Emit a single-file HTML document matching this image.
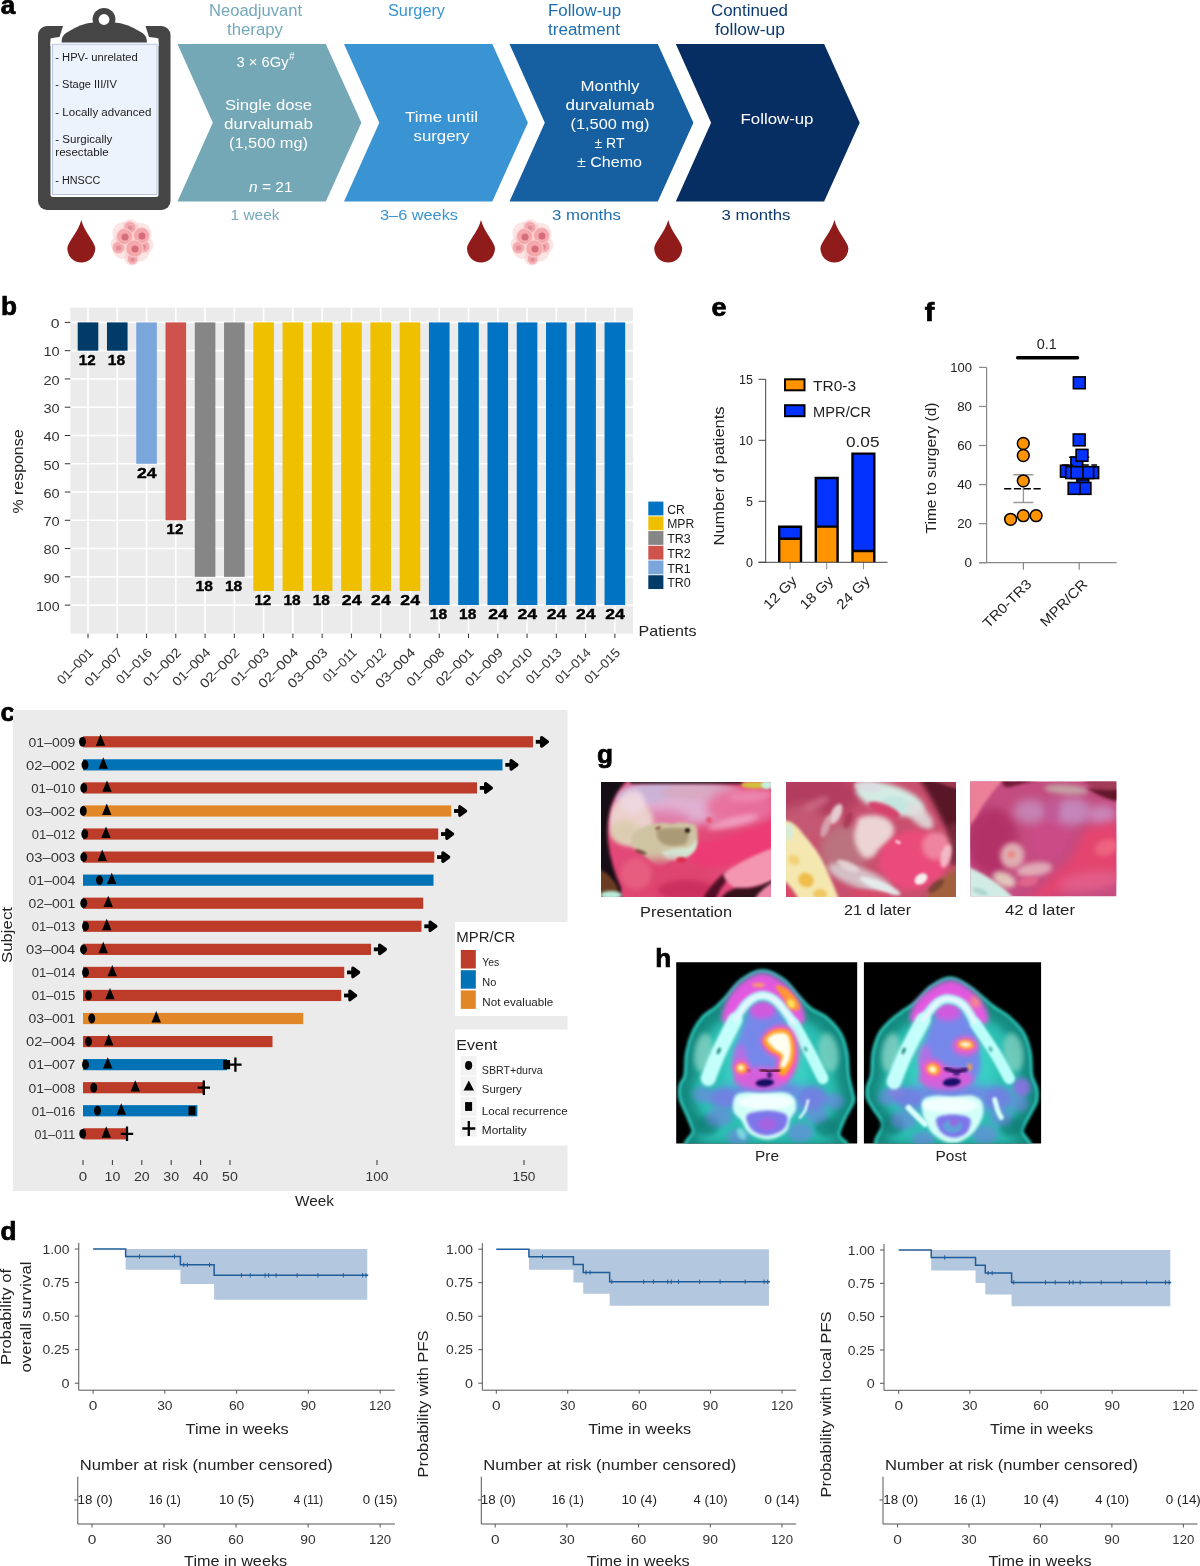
<!DOCTYPE html>
<html><head><meta charset="utf-8"><title>Figure</title>
<style>
html,body{margin:0;padding:0;background:#fff;}
body{width:1200px;height:1566px;overflow:hidden;}
svg{display:block;font-family:"Liberation Sans",sans-serif;}
</style></head><body>
<svg width="1200" height="1566" viewBox="0 0 1200 1566">
<defs>
<filter id="b1" x="-50%" y="-50%" width="200%" height="200%"><feGaussianBlur stdDeviation="0.8"/></filter>
<filter id="b2" x="-50%" y="-50%" width="200%" height="200%"><feGaussianBlur stdDeviation="1.6"/></filter>
<filter id="b3" x="-50%" y="-50%" width="200%" height="200%"><feGaussianBlur stdDeviation="2.6"/></filter>
<filter id="b4" x="-50%" y="-50%" width="200%" height="200%"><feGaussianBlur stdDeviation="5"/></filter>
</defs>
<rect width="1200" height="1566" fill="#fff"/>
<text x="0.8" y="13.6" font-size="25" font-weight="700" fill="#000" stroke="#000" stroke-width="0.7" textLength="14.5" lengthAdjust="spacingAndGlyphs">a</text>
<g>
<rect x="38" y="26" width="132.5" height="184" rx="9" fill="#454545"/>
<path d="M63,26 L145.5,26 L149,37 Q152,37 158.5,38.5 L158.5,46 L50.5,46 L50.5,38.5 Q56,37 59.5,37 Z" fill="#fff"/>
<rect x="50.5" y="40" width="108" height="157" rx="2.5" fill="#fff"/>
<rect x="52.6" y="44.2" width="104.4" height="150.4" fill="#edf3fc" stroke="#aab8de" stroke-width="0.8"/>
<path d="M61.5,42.4 Q61.5,36 66,33 Q82,22.5 93.5,22.5 L114.5,22.5 Q126,22.5 142.5,33 Q147,36 147,42.4 Z" fill="#454545"/>
<circle cx="104" cy="19.3" r="11.4" fill="#454545"/>
<circle cx="104" cy="19.5" r="5.4" fill="#fff"/>
</g>
<text x="55.3" y="60.5" font-size="10" fill="#1a1a1a" textLength="82.5" lengthAdjust="spacingAndGlyphs">- HPV- unrelated</text>
<text x="55.3" y="88" font-size="10" fill="#1a1a1a" textLength="61.5" lengthAdjust="spacingAndGlyphs">- Stage III/IV</text>
<text x="55.3" y="115.5" font-size="10" fill="#1a1a1a" textLength="96" lengthAdjust="spacingAndGlyphs">- Locally advanced</text>
<text x="55.3" y="142.5" font-size="10" fill="#1a1a1a" textLength="57" lengthAdjust="spacingAndGlyphs">- Surgically</text>
<text x="55.3" y="155.5" font-size="10" fill="#1a1a1a" textLength="53.5" lengthAdjust="spacingAndGlyphs">resectable</text>
<text x="55.3" y="183.5" font-size="10" fill="#1a1a1a" textLength="45" lengthAdjust="spacingAndGlyphs">- HNSCC</text>
<path d="M81.3,220.0 C84.3,232.0 95.3,242.5 95.3,248.5 A14,14 0 0 1 67.3,248.5 C67.3,242.5 78.3,232.0 81.3,220.0 Z" fill="#8f1b1b"/>
<path d="M481,220.0 C484,232.0 495,242.5 495,248.5 A14,14 0 0 1 467,248.5 C467,242.5 478,232.0 481,220.0 Z" fill="#8f1b1b"/>
<path d="M668.2,220.0 C671.2,232.0 682.2,242.5 682.2,248.5 A14,14 0 0 1 654.2,248.5 C654.2,242.5 665.2,232.0 668.2,220.0 Z" fill="#8f1b1b"/>
<path d="M834.4,220.0 C837.4,232.0 848.4,242.5 848.4,248.5 A14,14 0 0 1 820.4,248.5 C820.4,242.5 831.4,232.0 834.4,220.0 Z" fill="#8f1b1b"/>
<g>
<circle cx="123.5" cy="233" r="11" fill="#f8cccc" opacity="0.5"/>
<circle cx="140.5" cy="234" r="11" fill="#f8cccc" opacity="0.5"/>
<circle cx="122.5" cy="249" r="10" fill="#f8cccc" opacity="0.5"/>
<circle cx="138.5" cy="250" r="11.5" fill="#f8cccc" opacity="0.5"/>
<circle cx="132.5" cy="242" r="13" fill="#f8cccc" opacity="0.5"/>
<circle cx="145.5" cy="245" r="8" fill="#f8cccc" opacity="0.5"/>
<circle cx="131.5" cy="258" r="7.5" fill="#f8cccc" opacity="0.5"/>
<circle cx="130.5" cy="227" r="8" fill="#f8cccc" opacity="0.5"/>
<circle cx="117.5" cy="244" r="7" fill="#f8cccc" opacity="0.5"/>
<circle cx="118.5" cy="247.6" r="6" fill="#f3a9ad" stroke="#f9cfcf" stroke-width="0.8"/>
<circle cx="118.5" cy="248.1" r="2.52" fill="#e08e98"/>
<circle cx="143.5" cy="246.4" r="6" fill="#f3a9ad" stroke="#f9cfcf" stroke-width="0.8"/>
<circle cx="143.5" cy="246.9" r="2.52" fill="#e08e98"/>
<circle cx="130.0" cy="227.5" r="6" fill="#f3a9ad" stroke="#f9cfcf" stroke-width="0.8"/>
<circle cx="130.0" cy="228.0" r="2.52" fill="#e08e98"/>
<circle cx="132.5" cy="259" r="5.2" fill="#f3a9ad" stroke="#f9cfcf" stroke-width="0.8"/>
<circle cx="132.5" cy="259.5" r="2.18" fill="#e08e98"/>
<circle cx="124.5" cy="236.5" r="8" fill="#f5a8ac" stroke="#f9cfcf" stroke-width="0.9"/>
<circle cx="125.0" cy="237.0" r="3.5" fill="#d56e7a"/>
<circle cx="141.5" cy="235.6" r="8" fill="#f5a8ac" stroke="#f9cfcf" stroke-width="0.9"/>
<circle cx="142.0" cy="236.1" r="3.5" fill="#d56e7a"/>
<circle cx="134.5" cy="248.5" r="8.6" fill="#f5a8ac" stroke="#f9cfcf" stroke-width="0.9"/>
<circle cx="135.0" cy="249.0" r="3.5" fill="#d56e7a"/>
</g>
<g>
<circle cx="523.5" cy="233" r="11" fill="#f8cccc" opacity="0.5"/>
<circle cx="540.5" cy="234" r="11" fill="#f8cccc" opacity="0.5"/>
<circle cx="522.5" cy="249" r="10" fill="#f8cccc" opacity="0.5"/>
<circle cx="538.5" cy="250" r="11.5" fill="#f8cccc" opacity="0.5"/>
<circle cx="532.5" cy="242" r="13" fill="#f8cccc" opacity="0.5"/>
<circle cx="545.5" cy="245" r="8" fill="#f8cccc" opacity="0.5"/>
<circle cx="531.5" cy="258" r="7.5" fill="#f8cccc" opacity="0.5"/>
<circle cx="530.5" cy="227" r="8" fill="#f8cccc" opacity="0.5"/>
<circle cx="517.5" cy="244" r="7" fill="#f8cccc" opacity="0.5"/>
<circle cx="518.5" cy="247.6" r="6" fill="#f3a9ad" stroke="#f9cfcf" stroke-width="0.8"/>
<circle cx="518.5" cy="248.1" r="2.52" fill="#e08e98"/>
<circle cx="543.5" cy="246.4" r="6" fill="#f3a9ad" stroke="#f9cfcf" stroke-width="0.8"/>
<circle cx="543.5" cy="246.9" r="2.52" fill="#e08e98"/>
<circle cx="530.0" cy="227.5" r="6" fill="#f3a9ad" stroke="#f9cfcf" stroke-width="0.8"/>
<circle cx="530.0" cy="228.0" r="2.52" fill="#e08e98"/>
<circle cx="532.5" cy="259" r="5.2" fill="#f3a9ad" stroke="#f9cfcf" stroke-width="0.8"/>
<circle cx="532.5" cy="259.5" r="2.18" fill="#e08e98"/>
<circle cx="524.5" cy="236.5" r="8" fill="#f5a8ac" stroke="#f9cfcf" stroke-width="0.9"/>
<circle cx="525.0" cy="237.0" r="3.5" fill="#d56e7a"/>
<circle cx="541.5" cy="235.6" r="8" fill="#f5a8ac" stroke="#f9cfcf" stroke-width="0.9"/>
<circle cx="542.0" cy="236.1" r="3.5" fill="#d56e7a"/>
<circle cx="534.5" cy="248.5" r="8.6" fill="#f5a8ac" stroke="#f9cfcf" stroke-width="0.9"/>
<circle cx="535.0" cy="249.0" r="3.5" fill="#d56e7a"/>
</g>
<path d="M177.5,44 L325.8,44 L361.4,122.7 L325.8,201.4 L177.5,201.4 L212.8,122.7 Z" fill="#75a8b6"/>
<path d="M344,44 L492.3,44 L527.9,122.7 L492.3,201.4 L344,201.4 L379.3,122.7 Z" fill="#3a94d4"/>
<path d="M509.5,44 L657.8,44 L693.4,122.7 L657.8,201.4 L509.5,201.4 L544.8,122.7 Z" fill="#1660a1"/>
<path d="M675.8,44 L824.0999999999999,44 L859.6999999999999,122.7 L824.0999999999999,201.4 L675.8,201.4 L711.0999999999999,122.7 Z" fill="#062e62"/>
<text x="255.5" y="15.6" font-size="16" fill="#74a9b9" text-anchor="middle" textLength="93" lengthAdjust="spacingAndGlyphs">Neoadjuvant</text>
<text x="255" y="35" font-size="16" fill="#74a9b9" text-anchor="middle" textLength="56" lengthAdjust="spacingAndGlyphs">therapy</text>
<text x="416.5" y="15.6" font-size="16" fill="#3a94d4" text-anchor="middle" textLength="57" lengthAdjust="spacingAndGlyphs">Surgery</text>
<text x="584.5" y="15.6" font-size="16" fill="#1f6fb0" text-anchor="middle" textLength="73" lengthAdjust="spacingAndGlyphs">Follow-up</text>
<text x="584" y="35" font-size="16" fill="#1f6fb0" text-anchor="middle" textLength="72" lengthAdjust="spacingAndGlyphs">treatment</text>
<text x="749.5" y="15.6" font-size="16" fill="#0d3a6e" text-anchor="middle" textLength="77" lengthAdjust="spacingAndGlyphs">Continued</text>
<text x="750" y="35" font-size="16" fill="#0d3a6e" text-anchor="middle" textLength="70" lengthAdjust="spacingAndGlyphs">follow-up</text>
<text x="236.5" y="66.5" font-size="15.5" fill="#fff" textLength="52" lengthAdjust="spacingAndGlyphs">3 × 6Gy</text>
<text x="289" y="60" font-size="10" fill="#fff">#</text>
<text x="268.5" y="110" font-size="15.5" fill="#fff" text-anchor="middle" textLength="87" lengthAdjust="spacingAndGlyphs">Single dose</text>
<text x="268.5" y="129" font-size="15.5" fill="#fff" text-anchor="middle" textLength="89" lengthAdjust="spacingAndGlyphs">durvalumab</text>
<text x="268.5" y="148.3" font-size="15.5" fill="#fff" text-anchor="middle" textLength="79" lengthAdjust="spacingAndGlyphs">(1,500 mg)</text>
<text x="249" y="192" font-size="15.5" fill="#fff"><tspan font-style="italic">n</tspan> = 21</text>
<text x="441.5" y="121.5" font-size="15.5" fill="#fff" text-anchor="middle" textLength="73" lengthAdjust="spacingAndGlyphs">Time until</text>
<text x="441.5" y="141" font-size="15.5" fill="#fff" text-anchor="middle" textLength="56" lengthAdjust="spacingAndGlyphs">surgery</text>
<text x="610" y="90.7" font-size="15.5" fill="#fff" text-anchor="middle" textLength="59" lengthAdjust="spacingAndGlyphs">Monthly</text>
<text x="610" y="109.5" font-size="15.5" fill="#fff" text-anchor="middle" textLength="89" lengthAdjust="spacingAndGlyphs">durvalumab</text>
<text x="610" y="128.5" font-size="15.5" fill="#fff" text-anchor="middle" textLength="79" lengthAdjust="spacingAndGlyphs">(1,500 mg)</text>
<text x="609.5" y="147.5" font-size="15.5" fill="#fff" text-anchor="middle" textLength="30" lengthAdjust="spacingAndGlyphs">± RT</text>
<text x="609.5" y="166.5" font-size="15.5" fill="#fff" text-anchor="middle" textLength="65" lengthAdjust="spacingAndGlyphs">± Chemo</text>
<text x="777" y="124" font-size="15.5" fill="#fff" text-anchor="middle" textLength="73" lengthAdjust="spacingAndGlyphs">Follow-up</text>
<text x="255" y="220" font-size="15.5" fill="#74a9b9" text-anchor="middle" textLength="49" lengthAdjust="spacingAndGlyphs">1 week</text>
<text x="419" y="220" font-size="15.5" fill="#3a94d4" text-anchor="middle" textLength="78" lengthAdjust="spacingAndGlyphs">3–6 weeks</text>
<text x="586.5" y="220" font-size="15.5" fill="#1f6fb0" text-anchor="middle" textLength="69" lengthAdjust="spacingAndGlyphs">3 months</text>
<text x="756" y="220" font-size="15.5" fill="#0d3a6e" text-anchor="middle" textLength="69" lengthAdjust="spacingAndGlyphs">3 months</text>
<text x="1" y="315" font-size="25" font-weight="700" fill="#000" stroke="#000" stroke-width="0.7" textLength="16" lengthAdjust="spacingAndGlyphs">b</text>
<rect x="70.3" y="307.6" width="562.7" height="326.0" fill="#ebebeb"/>
<line x1="70.3" x2="633" y1="322.40" y2="322.40" stroke="#fff" stroke-width="1.6"/>
<line x1="64.8" x2="70.3" y1="322.40" y2="322.40" stroke="#333" stroke-width="1"/>
<text x="59.6" y="328.2" font-size="13" fill="#333" text-anchor="end" textLength="8.8" lengthAdjust="spacingAndGlyphs">0</text>
<line x1="70.3" x2="633" y1="350.67" y2="350.67" stroke="#fff" stroke-width="1.6"/>
<line x1="64.8" x2="70.3" y1="350.67" y2="350.67" stroke="#333" stroke-width="1"/>
<text x="59.6" y="356.47" font-size="13" fill="#333" text-anchor="end" textLength="16.2" lengthAdjust="spacingAndGlyphs">10</text>
<line x1="70.3" x2="633" y1="378.94" y2="378.94" stroke="#fff" stroke-width="1.6"/>
<line x1="64.8" x2="70.3" y1="378.94" y2="378.94" stroke="#333" stroke-width="1"/>
<text x="59.6" y="384.74" font-size="13" fill="#333" text-anchor="end" textLength="16.2" lengthAdjust="spacingAndGlyphs">20</text>
<line x1="70.3" x2="633" y1="407.21" y2="407.21" stroke="#fff" stroke-width="1.6"/>
<line x1="64.8" x2="70.3" y1="407.21" y2="407.21" stroke="#333" stroke-width="1"/>
<text x="59.6" y="413.01" font-size="13" fill="#333" text-anchor="end" textLength="16.2" lengthAdjust="spacingAndGlyphs">30</text>
<line x1="70.3" x2="633" y1="435.48" y2="435.48" stroke="#fff" stroke-width="1.6"/>
<line x1="64.8" x2="70.3" y1="435.48" y2="435.48" stroke="#333" stroke-width="1"/>
<text x="59.6" y="441.28" font-size="13" fill="#333" text-anchor="end" textLength="16.2" lengthAdjust="spacingAndGlyphs">40</text>
<line x1="70.3" x2="633" y1="463.75" y2="463.75" stroke="#fff" stroke-width="1.6"/>
<line x1="64.8" x2="70.3" y1="463.75" y2="463.75" stroke="#333" stroke-width="1"/>
<text x="59.6" y="469.55" font-size="13" fill="#333" text-anchor="end" textLength="16.2" lengthAdjust="spacingAndGlyphs">50</text>
<line x1="70.3" x2="633" y1="492.02" y2="492.02" stroke="#fff" stroke-width="1.6"/>
<line x1="64.8" x2="70.3" y1="492.02" y2="492.02" stroke="#333" stroke-width="1"/>
<text x="59.6" y="497.82" font-size="13" fill="#333" text-anchor="end" textLength="16.2" lengthAdjust="spacingAndGlyphs">60</text>
<line x1="70.3" x2="633" y1="520.29" y2="520.29" stroke="#fff" stroke-width="1.6"/>
<line x1="64.8" x2="70.3" y1="520.29" y2="520.29" stroke="#333" stroke-width="1"/>
<text x="59.6" y="526.09" font-size="13" fill="#333" text-anchor="end" textLength="16.2" lengthAdjust="spacingAndGlyphs">70</text>
<line x1="70.3" x2="633" y1="548.56" y2="548.56" stroke="#fff" stroke-width="1.6"/>
<line x1="64.8" x2="70.3" y1="548.56" y2="548.56" stroke="#333" stroke-width="1"/>
<text x="59.6" y="554.36" font-size="13" fill="#333" text-anchor="end" textLength="16.2" lengthAdjust="spacingAndGlyphs">80</text>
<line x1="70.3" x2="633" y1="576.83" y2="576.83" stroke="#fff" stroke-width="1.6"/>
<line x1="64.8" x2="70.3" y1="576.83" y2="576.83" stroke="#333" stroke-width="1"/>
<text x="59.6" y="582.63" font-size="13" fill="#333" text-anchor="end" textLength="16.2" lengthAdjust="spacingAndGlyphs">90</text>
<line x1="70.3" x2="633" y1="605.10" y2="605.10" stroke="#fff" stroke-width="1.6"/>
<line x1="64.8" x2="70.3" y1="605.10" y2="605.10" stroke="#333" stroke-width="1"/>
<text x="59.6" y="610.9" font-size="13" fill="#333" text-anchor="end" textLength="23.6" lengthAdjust="spacingAndGlyphs">100</text>
<line x1="88.00" x2="88.00" y1="307.6" y2="633.6" stroke="#fff" stroke-width="1.6"/>
<line x1="117.27" x2="117.27" y1="307.6" y2="633.6" stroke="#fff" stroke-width="1.6"/>
<line x1="146.54" x2="146.54" y1="307.6" y2="633.6" stroke="#fff" stroke-width="1.6"/>
<line x1="175.81" x2="175.81" y1="307.6" y2="633.6" stroke="#fff" stroke-width="1.6"/>
<line x1="205.08" x2="205.08" y1="307.6" y2="633.6" stroke="#fff" stroke-width="1.6"/>
<line x1="234.35" x2="234.35" y1="307.6" y2="633.6" stroke="#fff" stroke-width="1.6"/>
<line x1="263.62" x2="263.62" y1="307.6" y2="633.6" stroke="#fff" stroke-width="1.6"/>
<line x1="292.89" x2="292.89" y1="307.6" y2="633.6" stroke="#fff" stroke-width="1.6"/>
<line x1="322.16" x2="322.16" y1="307.6" y2="633.6" stroke="#fff" stroke-width="1.6"/>
<line x1="351.43" x2="351.43" y1="307.6" y2="633.6" stroke="#fff" stroke-width="1.6"/>
<line x1="380.70" x2="380.70" y1="307.6" y2="633.6" stroke="#fff" stroke-width="1.6"/>
<line x1="409.97" x2="409.97" y1="307.6" y2="633.6" stroke="#fff" stroke-width="1.6"/>
<line x1="439.24" x2="439.24" y1="307.6" y2="633.6" stroke="#fff" stroke-width="1.6"/>
<line x1="468.51" x2="468.51" y1="307.6" y2="633.6" stroke="#fff" stroke-width="1.6"/>
<line x1="497.78" x2="497.78" y1="307.6" y2="633.6" stroke="#fff" stroke-width="1.6"/>
<line x1="527.05" x2="527.05" y1="307.6" y2="633.6" stroke="#fff" stroke-width="1.6"/>
<line x1="556.32" x2="556.32" y1="307.6" y2="633.6" stroke="#fff" stroke-width="1.6"/>
<line x1="585.59" x2="585.59" y1="307.6" y2="633.6" stroke="#fff" stroke-width="1.6"/>
<line x1="614.86" x2="614.86" y1="307.6" y2="633.6" stroke="#fff" stroke-width="1.6"/>
<rect x="77.70" y="322.4" width="20.6" height="28.27" fill="#003C67"/>
<text x="87.2" y="364.67" font-size="15" fill="#000" text-anchor="middle" font-weight="700" textLength="16.8" lengthAdjust="spacingAndGlyphs" stroke="#000" stroke-width="0.4">12</text>
<line x1="88.00" x2="88.00" y1="633.6" y2="638.1" stroke="#333" stroke-width="1"/>
<text x="94.20" y="653.4" font-size="13" fill="#333" text-anchor="end" textLength="45.1" lengthAdjust="spacingAndGlyphs" transform="rotate(-45 94.20 653.4)">01–001</text>
<rect x="106.97" y="322.4" width="20.6" height="28.27" fill="#003C67"/>
<text x="116.47" y="364.67" font-size="15" fill="#000" text-anchor="middle" font-weight="700" textLength="17.3" lengthAdjust="spacingAndGlyphs" stroke="#000" stroke-width="0.4">18</text>
<line x1="117.27" x2="117.27" y1="633.6" y2="638.1" stroke="#333" stroke-width="1"/>
<text x="123.47" y="653.4" font-size="13" fill="#333" text-anchor="end" textLength="47.7" lengthAdjust="spacingAndGlyphs" transform="rotate(-45 123.47 653.4)">01–007</text>
<rect x="136.24" y="322.4" width="20.6" height="141.35" fill="#7AA6DC"/>
<text x="146.74" y="477.75" font-size="15" fill="#000" text-anchor="middle" font-weight="700" textLength="19.6" lengthAdjust="spacingAndGlyphs" stroke="#000" stroke-width="0.4">24</text>
<line x1="146.54" x2="146.54" y1="633.6" y2="638.1" stroke="#333" stroke-width="1"/>
<text x="152.74" y="653.4" font-size="13" fill="#333" text-anchor="end" textLength="44.5" lengthAdjust="spacingAndGlyphs" transform="rotate(-45 152.74 653.4)">01–016</text>
<rect x="165.51" y="322.4" width="20.6" height="197.89" fill="#CD534C"/>
<text x="175.01" y="534.29" font-size="15" fill="#000" text-anchor="middle" font-weight="700" textLength="16.8" lengthAdjust="spacingAndGlyphs" stroke="#000" stroke-width="0.4">12</text>
<line x1="175.81" x2="175.81" y1="633.6" y2="638.1" stroke="#333" stroke-width="1"/>
<text x="182.01" y="653.4" font-size="13" fill="#333" text-anchor="end" textLength="47.7" lengthAdjust="spacingAndGlyphs" transform="rotate(-45 182.01 653.4)">01–002</text>
<rect x="194.78" y="322.4" width="20.6" height="254.43" fill="#868686"/>
<text x="204.28" y="590.83" font-size="15" fill="#000" text-anchor="middle" font-weight="700" textLength="17.3" lengthAdjust="spacingAndGlyphs" stroke="#000" stroke-width="0.4">18</text>
<line x1="205.08" x2="205.08" y1="633.6" y2="638.1" stroke="#333" stroke-width="1"/>
<text x="211.28" y="653.4" font-size="13" fill="#333" text-anchor="end" textLength="47.7" lengthAdjust="spacingAndGlyphs" transform="rotate(-45 211.28 653.4)">01–004</text>
<rect x="224.05" y="322.4" width="20.6" height="254.43" fill="#868686"/>
<text x="233.55" y="590.83" font-size="15" fill="#000" text-anchor="middle" font-weight="700" textLength="17.3" lengthAdjust="spacingAndGlyphs" stroke="#000" stroke-width="0.4">18</text>
<line x1="234.35" x2="234.35" y1="633.6" y2="638.1" stroke="#333" stroke-width="1"/>
<text x="240.55" y="653.4" font-size="13" fill="#333" text-anchor="end" textLength="50.3" lengthAdjust="spacingAndGlyphs" transform="rotate(-45 240.55 653.4)">02–002</text>
<rect x="253.32" y="322.4" width="20.6" height="268.56" fill="#EFC000"/>
<text x="262.82" y="604.96" font-size="15" fill="#000" text-anchor="middle" font-weight="700" textLength="16.8" lengthAdjust="spacingAndGlyphs" stroke="#000" stroke-width="0.4">12</text>
<line x1="263.62" x2="263.62" y1="633.6" y2="638.1" stroke="#333" stroke-width="1"/>
<text x="269.82" y="653.4" font-size="13" fill="#333" text-anchor="end" textLength="47.7" lengthAdjust="spacingAndGlyphs" transform="rotate(-45 269.82 653.4)">01–003</text>
<rect x="282.59" y="322.4" width="20.6" height="268.56" fill="#EFC000"/>
<text x="292.09" y="604.96" font-size="15" fill="#000" text-anchor="middle" font-weight="700" textLength="17.3" lengthAdjust="spacingAndGlyphs" stroke="#000" stroke-width="0.4">18</text>
<line x1="292.89" x2="292.89" y1="633.6" y2="638.1" stroke="#333" stroke-width="1"/>
<text x="299.09" y="653.4" font-size="13" fill="#333" text-anchor="end" textLength="50.3" lengthAdjust="spacingAndGlyphs" transform="rotate(-45 299.09 653.4)">02–004</text>
<rect x="311.86" y="322.4" width="20.6" height="268.56" fill="#EFC000"/>
<text x="321.36" y="604.96" font-size="15" fill="#000" text-anchor="middle" font-weight="700" textLength="17.3" lengthAdjust="spacingAndGlyphs" stroke="#000" stroke-width="0.4">18</text>
<line x1="322.16" x2="322.16" y1="633.6" y2="638.1" stroke="#333" stroke-width="1"/>
<text x="328.36" y="653.4" font-size="13" fill="#333" text-anchor="end" textLength="50.3" lengthAdjust="spacingAndGlyphs" transform="rotate(-45 328.36 653.4)">03–003</text>
<rect x="341.13" y="322.4" width="20.6" height="268.56" fill="#EFC000"/>
<text x="351.63" y="604.96" font-size="15" fill="#000" text-anchor="middle" font-weight="700" textLength="19.6" lengthAdjust="spacingAndGlyphs" stroke="#000" stroke-width="0.4">24</text>
<line x1="351.43" x2="351.43" y1="633.6" y2="638.1" stroke="#333" stroke-width="1"/>
<text x="357.63" y="653.4" font-size="13" fill="#333" text-anchor="end" textLength="41.9" lengthAdjust="spacingAndGlyphs" transform="rotate(-45 357.63 653.4)">01–011</text>
<rect x="370.40" y="322.4" width="20.6" height="268.56" fill="#EFC000"/>
<text x="380.9" y="604.96" font-size="15" fill="#000" text-anchor="middle" font-weight="700" textLength="19.6" lengthAdjust="spacingAndGlyphs" stroke="#000" stroke-width="0.4">24</text>
<line x1="380.70" x2="380.70" y1="633.6" y2="638.1" stroke="#333" stroke-width="1"/>
<text x="386.90" y="653.4" font-size="13" fill="#333" text-anchor="end" textLength="44.5" lengthAdjust="spacingAndGlyphs" transform="rotate(-45 386.90 653.4)">01–012</text>
<rect x="399.67" y="322.4" width="20.6" height="268.56" fill="#EFC000"/>
<text x="410.17" y="604.96" font-size="15" fill="#000" text-anchor="middle" font-weight="700" textLength="19.6" lengthAdjust="spacingAndGlyphs" stroke="#000" stroke-width="0.4">24</text>
<line x1="409.97" x2="409.97" y1="633.6" y2="638.1" stroke="#333" stroke-width="1"/>
<text x="416.17" y="653.4" font-size="13" fill="#333" text-anchor="end" textLength="50.3" lengthAdjust="spacingAndGlyphs" transform="rotate(-45 416.17 653.4)">03–004</text>
<rect x="428.94" y="322.4" width="20.6" height="282.70" fill="#0073C2"/>
<text x="438.44" y="619.1" font-size="15" fill="#000" text-anchor="middle" font-weight="700" textLength="17.3" lengthAdjust="spacingAndGlyphs" stroke="#000" stroke-width="0.4">18</text>
<line x1="439.24" x2="439.24" y1="633.6" y2="638.1" stroke="#333" stroke-width="1"/>
<text x="445.44" y="653.4" font-size="13" fill="#333" text-anchor="end" textLength="47.7" lengthAdjust="spacingAndGlyphs" transform="rotate(-45 445.44 653.4)">01–008</text>
<rect x="458.21" y="322.4" width="20.6" height="282.70" fill="#0073C2"/>
<text x="467.71" y="619.1" font-size="15" fill="#000" text-anchor="middle" font-weight="700" textLength="17.3" lengthAdjust="spacingAndGlyphs" stroke="#000" stroke-width="0.4">18</text>
<line x1="468.51" x2="468.51" y1="633.6" y2="638.1" stroke="#333" stroke-width="1"/>
<text x="474.71" y="653.4" font-size="13" fill="#333" text-anchor="end" textLength="47.7" lengthAdjust="spacingAndGlyphs" transform="rotate(-45 474.71 653.4)">02–001</text>
<rect x="487.48" y="322.4" width="20.6" height="282.70" fill="#0073C2"/>
<text x="497.98" y="619.1" font-size="15" fill="#000" text-anchor="middle" font-weight="700" textLength="19.6" lengthAdjust="spacingAndGlyphs" stroke="#000" stroke-width="0.4">24</text>
<line x1="497.78" x2="497.78" y1="633.6" y2="638.1" stroke="#333" stroke-width="1"/>
<text x="503.98" y="653.4" font-size="13" fill="#333" text-anchor="end" textLength="47.7" lengthAdjust="spacingAndGlyphs" transform="rotate(-45 503.98 653.4)">01–009</text>
<rect x="516.75" y="322.4" width="20.6" height="282.70" fill="#0073C2"/>
<text x="527.25" y="619.1" font-size="15" fill="#000" text-anchor="middle" font-weight="700" textLength="19.6" lengthAdjust="spacingAndGlyphs" stroke="#000" stroke-width="0.4">24</text>
<line x1="527.05" x2="527.05" y1="633.6" y2="638.1" stroke="#333" stroke-width="1"/>
<text x="533.25" y="653.4" font-size="13" fill="#333" text-anchor="end" textLength="45.1" lengthAdjust="spacingAndGlyphs" transform="rotate(-45 533.25 653.4)">01–010</text>
<rect x="546.02" y="322.4" width="20.6" height="282.70" fill="#0073C2"/>
<text x="556.52" y="619.1" font-size="15" fill="#000" text-anchor="middle" font-weight="700" textLength="19.6" lengthAdjust="spacingAndGlyphs" stroke="#000" stroke-width="0.4">24</text>
<line x1="556.32" x2="556.32" y1="633.6" y2="638.1" stroke="#333" stroke-width="1"/>
<text x="562.52" y="653.4" font-size="13" fill="#333" text-anchor="end" textLength="44.5" lengthAdjust="spacingAndGlyphs" transform="rotate(-45 562.52 653.4)">01–013</text>
<rect x="575.29" y="322.4" width="20.6" height="282.70" fill="#0073C2"/>
<text x="585.79" y="619.1" font-size="15" fill="#000" text-anchor="middle" font-weight="700" textLength="19.6" lengthAdjust="spacingAndGlyphs" stroke="#000" stroke-width="0.4">24</text>
<line x1="585.59" x2="585.59" y1="633.6" y2="638.1" stroke="#333" stroke-width="1"/>
<text x="591.79" y="653.4" font-size="13" fill="#333" text-anchor="end" textLength="44.5" lengthAdjust="spacingAndGlyphs" transform="rotate(-45 591.79 653.4)">01–014</text>
<rect x="604.56" y="322.4" width="20.6" height="282.70" fill="#0073C2"/>
<text x="615.06" y="619.1" font-size="15" fill="#000" text-anchor="middle" font-weight="700" textLength="19.6" lengthAdjust="spacingAndGlyphs" stroke="#000" stroke-width="0.4">24</text>
<line x1="614.86" x2="614.86" y1="633.6" y2="638.1" stroke="#333" stroke-width="1"/>
<text x="621.06" y="653.4" font-size="13" fill="#333" text-anchor="end" textLength="44.5" lengthAdjust="spacingAndGlyphs" transform="rotate(-45 621.06 653.4)">01–015</text>
<text x="638.5" y="636" font-size="15" fill="#222" textLength="58" lengthAdjust="spacingAndGlyphs">Patients</text>
<text x="22.5" y="471.5" font-size="14" fill="#222" text-anchor="middle" textLength="84" lengthAdjust="spacingAndGlyphs" transform="rotate(-90 22.5 471.5)">% response</text>
<rect x="648.3" y="501.60" width="15.1" height="13.8" fill="#0073C2"/>
<text x="667.2" y="513.6" font-size="12.5" fill="#1a1a1a" textLength="17.5" lengthAdjust="spacingAndGlyphs">CR</text>
<rect x="648.3" y="516.33" width="15.1" height="13.8" fill="#EFC000"/>
<text x="667.2" y="528.33" font-size="12.5" fill="#1a1a1a" textLength="27" lengthAdjust="spacingAndGlyphs">MPR</text>
<rect x="648.3" y="531.06" width="15.1" height="13.8" fill="#868686"/>
<text x="667.2" y="543.06" font-size="12.5" fill="#1a1a1a" textLength="23.5" lengthAdjust="spacingAndGlyphs">TR3</text>
<rect x="648.3" y="545.79" width="15.1" height="13.8" fill="#CD534C"/>
<text x="667.2" y="557.79" font-size="12.5" fill="#1a1a1a" textLength="23.5" lengthAdjust="spacingAndGlyphs">TR2</text>
<rect x="648.3" y="560.52" width="15.1" height="13.8" fill="#7AA6DC"/>
<text x="667.2" y="572.52" font-size="12.5" fill="#1a1a1a" textLength="23.5" lengthAdjust="spacingAndGlyphs">TR1</text>
<rect x="648.3" y="575.25" width="15.1" height="13.8" fill="#003C67"/>
<text x="667.2" y="587.25" font-size="12.5" fill="#1a1a1a" textLength="23.5" lengthAdjust="spacingAndGlyphs">TR0</text>
<text x="0.6" y="721" font-size="25" font-weight="700" fill="#000" stroke="#000" stroke-width="0.7" textLength="14.5" lengthAdjust="spacingAndGlyphs">c</text>
<rect x="13" y="710" width="554.5" height="481" fill="#ebebeb"/>
<rect x="83" y="736.20" width="450.00" height="11.2" fill="#BC3C29"/>
<text x="75.3" y="746.6" font-size="13" fill="#333" text-anchor="end" textLength="46.7" lengthAdjust="spacingAndGlyphs">01–009</text>
<ellipse cx="82.50" cy="741.80" rx="3.45" ry="4.9" fill="#000"/>
<path d="M100.50,734.30 L105.20,745.70 L95.80,745.70 Z" fill="#000"/>
<path d="M535.80,741.80 H543.80" stroke="#000" stroke-width="3.8" fill="none"/><path d="M541.60,737.50 L547.40,741.80 L541.60,746.10 Z" fill="#000" stroke="#000" stroke-width="3.2" stroke-linejoin="round"/>
<rect x="83" y="759.26" width="419.50" height="11.2" fill="#0072B5"/>
<text x="75.3" y="769.66" font-size="13" fill="#333" text-anchor="end" textLength="49.3" lengthAdjust="spacingAndGlyphs">02–002</text>
<ellipse cx="85.00" cy="764.86" rx="3.45" ry="4.9" fill="#000"/>
<path d="M103.25,757.36 L107.95,768.76 L98.55,768.76 Z" fill="#000"/>
<path d="M505.30,764.86 H513.30" stroke="#000" stroke-width="3.8" fill="none"/><path d="M511.10,760.56 L516.90,764.86 L511.10,769.16 Z" fill="#000" stroke="#000" stroke-width="3.2" stroke-linejoin="round"/>
<rect x="83" y="782.32" width="394.00" height="11.2" fill="#BC3C29"/>
<text x="75.3" y="792.72" font-size="13" fill="#333" text-anchor="end" textLength="44.1" lengthAdjust="spacingAndGlyphs">01–010</text>
<ellipse cx="83.75" cy="787.92" rx="3.45" ry="4.9" fill="#000"/>
<path d="M107.00,780.42 L111.70,791.82 L102.30,791.82 Z" fill="#000"/>
<path d="M479.80,787.92 H487.80" stroke="#000" stroke-width="3.8" fill="none"/><path d="M485.60,783.62 L491.40,787.92 L485.60,792.22 Z" fill="#000" stroke="#000" stroke-width="3.2" stroke-linejoin="round"/>
<rect x="83" y="805.38" width="368.20" height="11.2" fill="#E18727"/>
<text x="75.3" y="815.78" font-size="13" fill="#333" text-anchor="end" textLength="49.3" lengthAdjust="spacingAndGlyphs">03–002</text>
<ellipse cx="83.25" cy="810.98" rx="3.45" ry="4.9" fill="#000"/>
<path d="M106.75,803.48 L111.45,814.88 L102.05,814.88 Z" fill="#000"/>
<path d="M454.00,810.98 H462.00" stroke="#000" stroke-width="3.8" fill="none"/><path d="M459.80,806.68 L465.60,810.98 L459.80,815.28 Z" fill="#000" stroke="#000" stroke-width="3.2" stroke-linejoin="round"/>
<rect x="83" y="828.44" width="355.20" height="11.2" fill="#BC3C29"/>
<text x="75.3" y="838.84" font-size="13" fill="#333" text-anchor="end" textLength="43.5" lengthAdjust="spacingAndGlyphs">01–012</text>
<ellipse cx="84.75" cy="834.04" rx="3.45" ry="4.9" fill="#000"/>
<path d="M106.00,826.54 L110.70,837.94 L101.30,837.94 Z" fill="#000"/>
<path d="M441.00,834.04 H449.00" stroke="#000" stroke-width="3.8" fill="none"/><path d="M446.80,829.74 L452.60,834.04 L446.80,838.34 Z" fill="#000" stroke="#000" stroke-width="3.2" stroke-linejoin="round"/>
<rect x="83" y="851.50" width="351.30" height="11.2" fill="#BC3C29"/>
<text x="75.3" y="861.9" font-size="13" fill="#333" text-anchor="end" textLength="49.3" lengthAdjust="spacingAndGlyphs">03–003</text>
<ellipse cx="83.75" cy="857.10" rx="3.45" ry="4.9" fill="#000"/>
<path d="M102.25,849.60 L106.95,861.00 L97.55,861.00 Z" fill="#000"/>
<path d="M437.10,857.10 H445.10" stroke="#000" stroke-width="3.8" fill="none"/><path d="M442.90,852.80 L448.70,857.10 L442.90,861.40 Z" fill="#000" stroke="#000" stroke-width="3.2" stroke-linejoin="round"/>
<rect x="83" y="874.56" width="350.50" height="11.2" fill="#0072B5"/>
<text x="75.3" y="884.96" font-size="13" fill="#333" text-anchor="end" textLength="46.7" lengthAdjust="spacingAndGlyphs">01–004</text>
<ellipse cx="99.50" cy="880.16" rx="3.45" ry="4.9" fill="#000"/>
<path d="M111.75,872.66 L116.45,884.06 L107.05,884.06 Z" fill="#000"/>
<rect x="83" y="897.62" width="340.20" height="11.2" fill="#BC3C29"/>
<text x="75.3" y="908.02" font-size="13" fill="#333" text-anchor="end" textLength="46.7" lengthAdjust="spacingAndGlyphs">02–001</text>
<ellipse cx="83.75" cy="903.22" rx="3.45" ry="4.9" fill="#000"/>
<path d="M108.25,895.72 L112.95,907.12 L103.55,907.12 Z" fill="#000"/>
<rect x="83" y="920.68" width="338.50" height="11.2" fill="#BC3C29"/>
<text x="75.3" y="931.08" font-size="13" fill="#333" text-anchor="end" textLength="43.5" lengthAdjust="spacingAndGlyphs">01–013</text>
<ellipse cx="85.50" cy="926.28" rx="3.45" ry="4.9" fill="#000"/>
<path d="M106.75,918.78 L111.45,930.18 L102.05,930.18 Z" fill="#000"/>
<path d="M424.30,926.28 H432.30" stroke="#000" stroke-width="3.8" fill="none"/><path d="M430.10,921.98 L435.90,926.28 L430.10,930.58 Z" fill="#000" stroke="#000" stroke-width="3.2" stroke-linejoin="round"/>
<rect x="83" y="943.74" width="288.00" height="11.2" fill="#BC3C29"/>
<text x="75.3" y="954.14" font-size="13" fill="#333" text-anchor="end" textLength="49.3" lengthAdjust="spacingAndGlyphs">03–004</text>
<ellipse cx="83.50" cy="949.34" rx="3.45" ry="4.9" fill="#000"/>
<path d="M103.25,941.84 L107.95,953.24 L98.55,953.24 Z" fill="#000"/>
<path d="M373.80,949.34 H381.80" stroke="#000" stroke-width="3.8" fill="none"/><path d="M379.60,945.04 L385.40,949.34 L379.60,953.64 Z" fill="#000" stroke="#000" stroke-width="3.2" stroke-linejoin="round"/>
<rect x="83" y="966.80" width="261.25" height="11.2" fill="#BC3C29"/>
<text x="75.3" y="977.2" font-size="13" fill="#333" text-anchor="end" textLength="43.5" lengthAdjust="spacingAndGlyphs">01–014</text>
<ellipse cx="85.50" cy="972.40" rx="3.45" ry="4.9" fill="#000"/>
<path d="M112.25,964.90 L116.95,976.30 L107.55,976.30 Z" fill="#000"/>
<path d="M347.05,972.40 H355.05" stroke="#000" stroke-width="3.8" fill="none"/><path d="M352.85,968.10 L358.65,972.40 L352.85,976.70 Z" fill="#000" stroke="#000" stroke-width="3.2" stroke-linejoin="round"/>
<rect x="83" y="989.86" width="258.25" height="11.2" fill="#BC3C29"/>
<text x="75.3" y="1000.26" font-size="13" fill="#333" text-anchor="end" textLength="43.5" lengthAdjust="spacingAndGlyphs">01–015</text>
<ellipse cx="88.50" cy="995.46" rx="3.45" ry="4.9" fill="#000"/>
<path d="M110.00,987.96 L114.70,999.36 L105.30,999.36 Z" fill="#000"/>
<path d="M344.05,995.46 H352.05" stroke="#000" stroke-width="3.8" fill="none"/><path d="M349.85,991.16 L355.65,995.46 L349.85,999.76 Z" fill="#000" stroke="#000" stroke-width="3.2" stroke-linejoin="round"/>
<rect x="83" y="1012.92" width="220.25" height="11.2" fill="#E18727"/>
<text x="75.3" y="1023.32" font-size="13" fill="#333" text-anchor="end" textLength="46.7" lengthAdjust="spacingAndGlyphs">03–001</text>
<ellipse cx="91.75" cy="1018.52" rx="3.45" ry="4.9" fill="#000"/>
<path d="M156.25,1011.02 L160.95,1022.42 L151.55,1022.42 Z" fill="#000"/>
<rect x="83" y="1035.98" width="189.50" height="11.2" fill="#BC3C29"/>
<text x="75.3" y="1046.38" font-size="13" fill="#333" text-anchor="end" textLength="49.3" lengthAdjust="spacingAndGlyphs">02–004</text>
<ellipse cx="88.50" cy="1041.58" rx="3.45" ry="4.9" fill="#000"/>
<path d="M108.75,1034.08 L113.45,1045.48 L104.05,1045.48 Z" fill="#000"/>
<rect x="83" y="1059.04" width="144.00" height="11.2" fill="#0072B5"/>
<text x="75.3" y="1069.44" font-size="13" fill="#333" text-anchor="end" textLength="46.7" lengthAdjust="spacingAndGlyphs">01–007</text>
<ellipse cx="85.50" cy="1064.64" rx="3.45" ry="4.9" fill="#000"/>
<path d="M107.75,1057.14 L112.45,1068.54 L103.05,1068.54 Z" fill="#000"/>
<rect x="223.10" y="1060.04" width="7.0" height="9.2" fill="#000"/>
<path d="M229.20,1064.64 H241.60 M235.40,1057.44 V1071.84" stroke="#000" stroke-width="2.3" fill="none"/>
<rect x="83" y="1082.10" width="122.00" height="11.2" fill="#BC3C29"/>
<text x="75.3" y="1092.5" font-size="13" fill="#333" text-anchor="end" textLength="46.7" lengthAdjust="spacingAndGlyphs">01–008</text>
<ellipse cx="93.75" cy="1087.70" rx="3.45" ry="4.9" fill="#000"/>
<path d="M135.25,1080.20 L139.95,1091.60 L130.55,1091.60 Z" fill="#000"/>
<path d="M197.60,1087.70 H210.00 M203.80,1080.50 V1094.90" stroke="#000" stroke-width="2.3" fill="none"/>
<rect x="83" y="1105.16" width="114.40" height="11.2" fill="#0072B5"/>
<text x="75.3" y="1115.56" font-size="13" fill="#333" text-anchor="end" textLength="43.5" lengthAdjust="spacingAndGlyphs">01–016</text>
<ellipse cx="97.50" cy="1110.76" rx="3.45" ry="4.9" fill="#000"/>
<path d="M121.25,1103.26 L125.95,1114.66 L116.55,1114.66 Z" fill="#000"/>
<rect x="188.50" y="1106.16" width="7.0" height="9.2" fill="#000"/>
<rect x="83" y="1128.22" width="43.00" height="11.2" fill="#BC3C29"/>
<text x="75.3" y="1138.62" font-size="13" fill="#333" text-anchor="end" textLength="40.9" lengthAdjust="spacingAndGlyphs">01–011</text>
<ellipse cx="82.75" cy="1133.82" rx="3.45" ry="4.9" fill="#000"/>
<path d="M106.25,1126.32 L110.95,1137.72 L101.55,1137.72 Z" fill="#000"/>
<path d="M120.80,1133.82 H133.20 M127.00,1126.62 V1141.02" stroke="#000" stroke-width="2.3" fill="none"/>
<line x1="83.00" x2="83.00" y1="1160" y2="1165" stroke="#333" stroke-width="1"/>
<text x="83.0" y="1180.8" font-size="13" fill="#333" text-anchor="middle" textLength="8.4" lengthAdjust="spacingAndGlyphs">0</text>
<line x1="112.40" x2="112.40" y1="1160" y2="1165" stroke="#333" stroke-width="1"/>
<text x="112.4" y="1180.8" font-size="13" fill="#333" text-anchor="middle" textLength="15.8" lengthAdjust="spacingAndGlyphs">10</text>
<line x1="141.80" x2="141.80" y1="1160" y2="1165" stroke="#333" stroke-width="1"/>
<text x="141.8" y="1180.8" font-size="13" fill="#333" text-anchor="middle" textLength="15.8" lengthAdjust="spacingAndGlyphs">20</text>
<line x1="171.20" x2="171.20" y1="1160" y2="1165" stroke="#333" stroke-width="1"/>
<text x="171.2" y="1180.8" font-size="13" fill="#333" text-anchor="middle" textLength="15.8" lengthAdjust="spacingAndGlyphs">30</text>
<line x1="200.60" x2="200.60" y1="1160" y2="1165" stroke="#333" stroke-width="1"/>
<text x="200.6" y="1180.8" font-size="13" fill="#333" text-anchor="middle" textLength="15.8" lengthAdjust="spacingAndGlyphs">40</text>
<line x1="230.00" x2="230.00" y1="1160" y2="1165" stroke="#333" stroke-width="1"/>
<text x="230.0" y="1180.8" font-size="13" fill="#333" text-anchor="middle" textLength="15.8" lengthAdjust="spacingAndGlyphs">50</text>
<line x1="377.00" x2="377.00" y1="1160" y2="1165" stroke="#333" stroke-width="1"/>
<text x="377.0" y="1180.8" font-size="13" fill="#333" text-anchor="middle" textLength="22.8" lengthAdjust="spacingAndGlyphs">100</text>
<line x1="524.00" x2="524.00" y1="1160" y2="1165" stroke="#333" stroke-width="1"/>
<text x="524.0" y="1180.8" font-size="13" fill="#333" text-anchor="middle" textLength="22.8" lengthAdjust="spacingAndGlyphs">150</text>
<text x="314.5" y="1205.5" font-size="15" fill="#222" text-anchor="middle" textLength="39" lengthAdjust="spacingAndGlyphs">Week</text>
<text x="11.5" y="935" font-size="14.5" fill="#222" text-anchor="middle" textLength="56" lengthAdjust="spacingAndGlyphs" transform="rotate(-90 11.5 935)">Subject</text>
<rect x="455" y="922" width="113" height="94" fill="#fff"/>
<rect x="455" y="1029.5" width="113" height="116" fill="#fff"/>
<text x="456.3" y="941.5" font-size="15" fill="#222" textLength="59" lengthAdjust="spacingAndGlyphs">MPR/CR</text>
<rect x="460.8" y="950.00" width="15" height="18.5" fill="#BC3C29"/>
<text x="482.3" y="966.0" font-size="10.5" fill="#222" textLength="17" lengthAdjust="spacingAndGlyphs">Yes</text>
<rect x="460.8" y="970.20" width="15" height="18.5" fill="#0072B5"/>
<text x="482.3" y="985.9" font-size="10.5" fill="#222" textLength="14" lengthAdjust="spacingAndGlyphs">No</text>
<rect x="460.8" y="990.40" width="15" height="18.5" fill="#E18727"/>
<text x="482.3" y="1005.8" font-size="10.5" fill="#222" textLength="71" lengthAdjust="spacingAndGlyphs">Not evaluable</text>
<text x="456.3" y="1049.5" font-size="15" fill="#222" textLength="41" lengthAdjust="spacingAndGlyphs">Event</text>
<rect x="460.5" y="1056.00" width="16" height="19.4" fill="#f2f2f2"/>
<rect x="460.5" y="1076.40" width="16" height="19.4" fill="#f2f2f2"/>
<rect x="460.5" y="1096.80" width="16" height="19.4" fill="#f2f2f2"/>
<rect x="460.5" y="1117.20" width="16" height="19.4" fill="#f2f2f2"/>
<ellipse cx="468.6" cy="1065.5" rx="3.6" ry="4.4" fill="#000"/>
<path d="M468.8,1080.5 L474,1090.5 L463.6,1090.5 Z" fill="#000"/>
<rect x="465.10" y="1102.10" width="7.0" height="8.8" fill="#000"/>
<path d="M462.30,1128.50 H475.30 M468.80,1121.00 V1136.00" stroke="#000" stroke-width="2.3" fill="none"/>
<text x="481.8" y="1073.8" font-size="10.5" fill="#222" textLength="61" lengthAdjust="spacingAndGlyphs">SBRT+durva</text>
<text x="481.8" y="1093" font-size="10.5" fill="#222" textLength="40" lengthAdjust="spacingAndGlyphs">Surgery</text>
<text x="481.8" y="1114.5" font-size="10.5" fill="#222" textLength="86" lengthAdjust="spacingAndGlyphs">Local recurrence</text>
<text x="481.8" y="1134" font-size="10.5" fill="#222" textLength="45" lengthAdjust="spacingAndGlyphs">Mortality</text>
<text x="711.5" y="315.5" font-size="25" font-weight="700" fill="#000" stroke="#000" stroke-width="0.7" textLength="15" lengthAdjust="spacingAndGlyphs">e</text>
<path d="M765.7,379.30 V562.3" stroke="#444" stroke-width="1" fill="none"/>
<line x1="758.5" x2="765.7" y1="562.30" y2="562.30" stroke="#444" stroke-width="1"/>
<text x="753" y="566.8" font-size="12.5" fill="#222" text-anchor="end">0</text>
<line x1="758.5" x2="765.7" y1="501.30" y2="501.30" stroke="#444" stroke-width="1"/>
<text x="753" y="505.8" font-size="12.5" fill="#222" text-anchor="end">5</text>
<line x1="758.5" x2="765.7" y1="440.30" y2="440.30" stroke="#444" stroke-width="1"/>
<text x="753" y="444.8" font-size="12.5" fill="#222" text-anchor="end">10</text>
<line x1="758.5" x2="765.7" y1="379.30" y2="379.30" stroke="#444" stroke-width="1"/>
<text x="753" y="383.8" font-size="12.5" fill="#222" text-anchor="end">15</text>
<rect x="779.20" y="538.80" width="21.8" height="23.50" fill="#ff9400"/>
<rect x="779.20" y="526.80" width="21.8" height="12.00" fill="#0433ff"/>
<path d="M779.20,562.30 V526.80 H801.00 V562.30 M779.20,538.80 H801.00" fill="none" stroke="#000" stroke-width="2.4" stroke-linejoin="miter"/>
<line x1="790.1" x2="790.1" y1="562.3" y2="569.3" stroke="#888" stroke-width="1"/>
<rect x="815.80" y="526.60" width="21.8" height="35.70" fill="#ff9400"/>
<rect x="815.80" y="478.00" width="21.8" height="48.60" fill="#0433ff"/>
<path d="M815.80,562.30 V478.00 H837.60 V562.30 M815.80,526.60 H837.60" fill="none" stroke="#000" stroke-width="2.4" stroke-linejoin="miter"/>
<line x1="826.7" x2="826.7" y1="562.3" y2="569.3" stroke="#888" stroke-width="1"/>
<rect x="852.50" y="551.00" width="21.8" height="11.30" fill="#ff9400"/>
<rect x="852.50" y="453.60" width="21.8" height="97.40" fill="#0433ff"/>
<path d="M852.50,562.30 V453.60 H874.30 V562.30 M852.50,551.00 H874.30" fill="none" stroke="#000" stroke-width="2.4" stroke-linejoin="miter"/>
<line x1="863.4" x2="863.4" y1="562.3" y2="569.3" stroke="#888" stroke-width="1"/>
<text x="797.6" y="581.5" font-size="14" fill="#222" text-anchor="end" textLength="40.5" lengthAdjust="spacingAndGlyphs" transform="rotate(-45 797.6 581.5)">12 Gy</text>
<text x="834.2" y="581.5" font-size="14" fill="#222" text-anchor="end" textLength="40.5" lengthAdjust="spacingAndGlyphs" transform="rotate(-45 834.2 581.5)">18 Gy</text>
<text x="870.9" y="581.5" font-size="14" fill="#222" text-anchor="end" textLength="40.5" lengthAdjust="spacingAndGlyphs" transform="rotate(-45 870.9 581.5)">24 Gy</text>
<path d="M758.5,562.3 H887.5" stroke="#444" stroke-width="1" fill="none"/>
<text x="846" y="447" font-size="15" fill="#222" textLength="33.5" lengthAdjust="spacingAndGlyphs">0.05</text>
<rect x="785" y="379.3" width="19.5" height="11" fill="#ff9400" stroke="#000" stroke-width="2"/>
<rect x="785" y="405.2" width="19.5" height="11" fill="#0433ff" stroke="#000" stroke-width="2"/>
<text x="813" y="391" font-size="15.2" fill="#222" textLength="43" lengthAdjust="spacingAndGlyphs">TR0-3</text>
<text x="813" y="417" font-size="15.2" fill="#222" textLength="58" lengthAdjust="spacingAndGlyphs">MPR/CR</text>
<text x="724" y="476" font-size="15.2" fill="#222" text-anchor="middle" textLength="139" lengthAdjust="spacingAndGlyphs" transform="rotate(-90 724 476)">Number of patients</text>
<text x="924.8" y="320.5" font-size="25" font-weight="700" fill="#000" stroke="#000" stroke-width="0.7" textLength="9.5" lengthAdjust="spacingAndGlyphs">f</text>
<path d="M986.6,367.40 V562.7" stroke="#888" stroke-width="1.2" fill="none"/>
<path d="M979,562.7 H1116.7" stroke="#888" stroke-width="1.2" fill="none"/>
<line x1="979" x2="986.6" y1="562.70" y2="562.70" stroke="#888" stroke-width="1.2"/>
<text x="972" y="567.3" font-size="12.5" fill="#222" text-anchor="end" textLength="7.5" lengthAdjust="spacingAndGlyphs">0</text>
<line x1="979" x2="986.6" y1="523.64" y2="523.64" stroke="#888" stroke-width="1.2"/>
<text x="972" y="528.24" font-size="12.5" fill="#222" text-anchor="end" textLength="14.8" lengthAdjust="spacingAndGlyphs">20</text>
<line x1="979" x2="986.6" y1="484.58" y2="484.58" stroke="#888" stroke-width="1.2"/>
<text x="972" y="489.18" font-size="12.5" fill="#222" text-anchor="end" textLength="14.8" lengthAdjust="spacingAndGlyphs">40</text>
<line x1="979" x2="986.6" y1="445.52" y2="445.52" stroke="#888" stroke-width="1.2"/>
<text x="972" y="450.12" font-size="12.5" fill="#222" text-anchor="end" textLength="14.8" lengthAdjust="spacingAndGlyphs">60</text>
<line x1="979" x2="986.6" y1="406.46" y2="406.46" stroke="#888" stroke-width="1.2"/>
<text x="972" y="411.06" font-size="12.5" fill="#222" text-anchor="end" textLength="14.8" lengthAdjust="spacingAndGlyphs">80</text>
<line x1="979" x2="986.6" y1="367.40" y2="367.40" stroke="#888" stroke-width="1.2"/>
<text x="972" y="372.0" font-size="12.5" fill="#222" text-anchor="end" textLength="21.8" lengthAdjust="spacingAndGlyphs">100</text>
<line x1="1023.4" x2="1023.4" y1="562.7" y2="569.7" stroke="#888" stroke-width="1.2"/>
<line x1="1079.2" x2="1079.2" y1="562.7" y2="569.7" stroke="#888" stroke-width="1.2"/>
<path d="M1013.3,474.8 H1033.4 M1013.3,502.5 H1033.4 M1023.4,474.8 V502.5" stroke="#999" stroke-width="1.4" fill="none"/>
<circle cx="1023.3" cy="443.5" r="5.9" fill="#ff9400" stroke="#000" stroke-width="1.5"/>
<circle cx="1023.3" cy="455.5" r="5.9" fill="#ff9400" stroke="#000" stroke-width="1.5"/>
<circle cx="1023.3" cy="480.8" r="5.9" fill="#ff9400" stroke="#000" stroke-width="1.5"/>
<circle cx="1010.6" cy="519.3" r="5.9" fill="#ff9400" stroke="#000" stroke-width="1.5"/>
<circle cx="1023.3" cy="515.7" r="5.9" fill="#ff9400" stroke="#000" stroke-width="1.5"/>
<circle cx="1036.1" cy="515.7" r="5.9" fill="#ff9400" stroke="#000" stroke-width="1.5"/>
<path d="M1004.1,488.7 H1041" stroke="#000" stroke-width="1.6" stroke-dasharray="7.2 2.6" fill="none"/>
<path d="M1069.2,457.2 H1089.3 M1079.2,457.2 V476" stroke="#000" stroke-width="1.4" fill="none"/>
<path d="M1062,465 H1097" stroke="#000" stroke-width="1.6" stroke-dasharray="7.2 2.6" fill="none"/>
<rect x="1073.40" y="376.90" width="11.8" height="11.8" fill="#0433ff" stroke="#000" stroke-width="1.6"/>
<rect x="1073.30" y="434.00" width="11.8" height="11.8" fill="#0433ff" stroke="#000" stroke-width="1.6"/>
<rect x="1070.90" y="457.00" width="11.8" height="11.8" fill="#0433ff" stroke="#000" stroke-width="1.6"/>
<rect x="1076.10" y="449.40" width="11.8" height="11.8" fill="#0433ff" stroke="#000" stroke-width="1.6"/>
<rect x="1060.50" y="465.30" width="11.8" height="11.8" fill="#0433ff" stroke="#000" stroke-width="1.6"/>
<rect x="1086.80" y="466.70" width="11.8" height="11.8" fill="#0433ff" stroke="#000" stroke-width="1.6"/>
<rect x="1065.70" y="466.70" width="11.8" height="11.8" fill="#0433ff" stroke="#000" stroke-width="1.6"/>
<rect x="1081.80" y="466.70" width="11.8" height="11.8" fill="#0433ff" stroke="#000" stroke-width="1.6"/>
<rect x="1071.10" y="466.70" width="11.8" height="11.8" fill="#0433ff" stroke="#000" stroke-width="1.6"/>
<rect x="1076.90" y="479.90" width="11.8" height="11.8" fill="#0433ff" stroke="#000" stroke-width="1.6"/>
<rect x="1079.10" y="482.50" width="11.8" height="11.8" fill="#0433ff" stroke="#000" stroke-width="1.6"/>
<rect x="1068.20" y="482.50" width="11.8" height="11.8" fill="#0433ff" stroke="#000" stroke-width="1.6"/>
<path d="M1017.6,357.8 H1077.6" stroke="#000" stroke-width="3.4" stroke-linecap="round" fill="none"/>
<text x="1046.8" y="348.5" font-size="15.2" fill="#222" text-anchor="middle" textLength="20" lengthAdjust="spacingAndGlyphs">0.1</text>
<text x="1032.4" y="585" font-size="14" fill="#222" text-anchor="end" textLength="62" lengthAdjust="spacingAndGlyphs" transform="rotate(-45 1032.4 585)">TR0-TR3</text>
<text x="1088.2" y="585" font-size="14" fill="#222" text-anchor="end" textLength="60" lengthAdjust="spacingAndGlyphs" transform="rotate(-45 1088.2 585)">MPR/CR</text>
<text x="936" y="468" font-size="15.2" fill="#222" text-anchor="middle" textLength="131" lengthAdjust="spacingAndGlyphs" transform="rotate(-90 936 468)">Time to surgery (d)</text>
<text x="597" y="763.3" font-size="25" font-weight="700" fill="#000" stroke="#000" stroke-width="0.7" textLength="16" lengthAdjust="spacingAndGlyphs">g</text>
<clipPath id="cg1"><rect x="0" y="0" width="170" height="115"/></clipPath><g transform="translate(601 782)" clip-path="url(#cg1)"><rect x="-2" y="-2" width="174" height="119" fill="#d8486e"/><path d="M-5,-5 H175 V120 H-5 Z" fill="#e24a78" opacity="1" filter="url(#b1)"/><ellipse cx="75" cy="20" rx="62" ry="24" fill="#e0b0d2" opacity="1" filter="url(#b4)"/><ellipse cx="45" cy="12" rx="30" ry="10" fill="#c9b4d8" opacity="0.9" filter="url(#b3)" transform="rotate(-8 45 12)"/><ellipse cx="100" cy="10" rx="40" ry="8" fill="#d8a8c0" opacity="0.8" filter="url(#b3)"/><ellipse cx="60" cy="40" rx="30" ry="12" fill="#e070a0" opacity="0.75" filter="url(#b4)"/><ellipse cx="140" cy="25" rx="35" ry="18" fill="#e8709c" opacity="0.95" filter="url(#b4)"/><ellipse cx="132" cy="40" rx="26" ry="5" fill="#f2a6c4" opacity="0.85" filter="url(#b3)" transform="rotate(-14 132 40)"/><ellipse cx="150" cy="14" rx="22" ry="6" fill="#ee90b4" opacity="0.7" filter="url(#b3)" transform="rotate(-5 150 14)"/><path d="M85,62 Q120,60 172,38 V70 Q140,82 100,88 Q86,80 85,62 Z" fill="#ee3a74" opacity="0.95" filter="url(#b3)"/><ellipse cx="30" cy="40" rx="22" ry="25" fill="#ecd0cc" opacity="1" filter="url(#b3)" transform="rotate(-25 30 40)"/><ellipse cx="24" cy="50" rx="15" ry="12" fill="#dccdb0" opacity="0.95" filter="url(#b3)"/><ellipse cx="32" cy="20" rx="12" ry="12" fill="#f0d8e2" opacity="0.9" filter="url(#b3)" transform="rotate(-20 32 20)"/><path d="M36,48 Q55,38 70,42 Q82,38 95,43 Q99,56 94,68 Q84,78 70,78 Q60,90 50,80 Q40,70 30,64 Q28,54 36,48 Z" fill="#cec4a2" opacity="1" filter="url(#b2)"/><path d="M56,48 Q70,44 86,47 Q90,56 84,62 Q72,66 62,62 Q54,56 56,48 Z" fill="#a89672" opacity="0.9" filter="url(#b2)"/><path d="M60,70 Q72,66 86,66 Q94,62 95,56 Q98,66 88,74 Q76,80 66,78 Z" fill="#d4ead8" opacity="0.95" filter="url(#b2)"/><ellipse cx="86.5" cy="48.5" rx="2.6" ry="2.4" fill="#2c1a14" opacity="1" filter="url(#b1)"/><ellipse cx="57" cy="46" rx="3" ry="1.6" fill="#7a3a30" opacity="0.8" filter="url(#b1)" transform="rotate(-20 57 46)"/><ellipse cx="40" cy="70" rx="6" ry="2" fill="#5a3428" opacity="0.7" filter="url(#b1)" transform="rotate(20 40 70)"/><ellipse cx="80" cy="78" rx="5" ry="3" fill="#d8142c" opacity="0.9" filter="url(#b1)"/><ellipse cx="108" cy="38" rx="3" ry="3" fill="#e85070" opacity="0.9" filter="url(#b1)"/><ellipse cx="60" cy="98" rx="55" ry="20" fill="#de4470" opacity="0.95" filter="url(#b4)"/><ellipse cx="35" cy="92" rx="16" ry="16" fill="#e86484" opacity="0.8" filter="url(#b3)"/><ellipse cx="85" cy="108" rx="28" ry="10" fill="#c62c5a" opacity="0.8" filter="url(#b3)"/><path d="M-5,-5 H30 Q16,6 10,24 Q5,42 7,60 Q10,84 20,106 L20,120 H-5 Z" fill="#160912" opacity="1" filter="url(#b2)"/><path d="M26,-5 H142 V2 H30 Z" fill="#241018" opacity="0.9" filter="url(#b2)"/><path d="M-5,86 Q8,90 16,104 L20,120 H-5 Z" fill="#6a3c24" opacity="1" filter="url(#b2)"/><ellipse cx="10" cy="113" rx="11" ry="4" fill="#b8ecdc" opacity="1" filter="url(#b2)"/><path d="M100,120 Q108,104 122,92 Q128,90 130,94 Q118,106 114,120 Z" fill="#4a0a24" opacity="0.95" filter="url(#b2)"/><path d="M122,92 Q140,78 172,66 V100 Q150,108 134,106 Q124,100 122,92 Z" fill="#f496b0" opacity="1" filter="url(#b2)"/><path d="M118,120 Q124,108 136,106 Q152,108 172,98 V120 Z" fill="#2a0a16" opacity="0.95" filter="url(#b2)"/><path d="M152,120 Q158,108 172,100 V120 Z" fill="#ee88a8" opacity="1" filter="url(#b2)"/><ellipse cx="154" cy="3" rx="14" ry="3.5" fill="#d4bc3c" opacity="1" filter="url(#b1)"/><ellipse cx="166" cy="3" rx="6" ry="4" fill="#c4f0dc" opacity="1" filter="url(#b1)"/></g>
<clipPath id="cg2"><rect x="0" y="0" width="170" height="115"/></clipPath><g transform="translate(786 782)" clip-path="url(#cg2)"><rect x="-2" y="-2" width="174" height="119" fill="#c8506e"/><ellipse cx="28" cy="14" rx="46" ry="22" fill="#b23e5e" opacity="1" filter="url(#b4)"/><ellipse cx="16" cy="40" rx="22" ry="18" fill="#c45a74" opacity="0.9" filter="url(#b4)"/><ellipse cx="58" cy="68" rx="24" ry="26" fill="#ba7480" opacity="0.95" filter="url(#b4)"/><ellipse cx="30" cy="22" rx="14" ry="5" fill="#d07088" opacity="0.7" filter="url(#b3)" transform="rotate(-25 30 22)"/><ellipse cx="50" cy="32" rx="5" ry="11" fill="#eadadc" opacity="0.9" filter="url(#b2)" transform="rotate(25 50 32)"/><ellipse cx="40" cy="44" rx="4" ry="12" fill="#dcc0c6" opacity="0.7" filter="url(#b2)" transform="rotate(20 40 44)"/><ellipse cx="62" cy="38" rx="4" ry="9" fill="#a03050" opacity="0.7" filter="url(#b2)" transform="rotate(20 62 38)"/><path d="M132,-5 H175 V62 Q160,50 152,30 Q142,10 132,-5 Z" fill="#581226" opacity="1" filter="url(#b3)"/><path d="M140,-5 H175 V8 Q158,4 140,-5 Z" fill="#a83c54" opacity="0.9" filter="url(#b2)"/><ellipse cx="168" cy="62" rx="8" ry="22" fill="#7a2a3a" opacity="0.9" filter="url(#b3)"/><ellipse cx="104" cy="17" rx="36" ry="14" fill="#d4ebe4" opacity="1" filter="url(#b3)" transform="rotate(18 104 17)"/><ellipse cx="112" cy="22" rx="16" ry="7" fill="#c2e6e0" opacity="0.9" filter="url(#b2)" transform="rotate(15 112 22)"/><ellipse cx="134" cy="34" rx="17" ry="8" fill="#e0dcdc" opacity="0.9" filter="url(#b3)" transform="rotate(45 134 34)"/><ellipse cx="82" cy="5" rx="14" ry="5" fill="#dcdce0" opacity="0.85" filter="url(#b2)" transform="rotate(10 82 5)"/><ellipse cx="98" cy="28" rx="17" ry="6" fill="#d63e68" opacity="0.95" filter="url(#b2)" transform="rotate(22 98 28)"/><path d="M72,36 Q86,30 100,36 Q112,44 106,56 Q100,64 92,68 Q88,78 78,76 Q68,66 68,52 Z" fill="#ecd4d4" opacity="1" filter="url(#b3)"/><path d="M96,66 Q108,52 124,48 Q148,48 162,62 Q166,80 154,96 Q138,110 118,108 Q100,100 92,84 Z" fill="#ea4c7a" opacity="1" filter="url(#b3)"/><ellipse cx="150" cy="64" rx="14" ry="14" fill="#f08ea6" opacity="0.85" filter="url(#b3)"/><ellipse cx="160" cy="74" rx="5" ry="12" fill="#f4c8d0" opacity="0.85" filter="url(#b2)" transform="rotate(15 160 74)"/><ellipse cx="135" cy="97" rx="7" ry="5" fill="#f6eeee" opacity="1" filter="url(#b1)" transform="rotate(-35 135 97)"/><ellipse cx="112" cy="60" rx="3" ry="1.5" fill="#fff" opacity="0.8" filter="url(#b1)" transform="rotate(30 112 60)"/><ellipse cx="74" cy="96" rx="34" ry="10" fill="#d6c4ca" opacity="0.95" filter="url(#b3)" transform="rotate(20 74 96)"/><ellipse cx="94" cy="104" rx="22" ry="4.5" fill="#e6eeee" opacity="0.95" filter="url(#b2)" transform="rotate(22 94 104)"/><ellipse cx="62" cy="84" rx="12" ry="4" fill="#e8dcdc" opacity="0.8" filter="url(#b2)" transform="rotate(25 62 84)"/><ellipse cx="84" cy="112" rx="20" ry="4" fill="#d84868" opacity="0.85" filter="url(#b2)" transform="rotate(5 84 112)"/><path d="M-5,96 Q8,106 14,120 H-5 Z" fill="#d84868" opacity="1" filter="url(#b2)"/><path d="M-5,38 Q8,38 17,52 Q32,68 40,86 Q48,104 54,120 H14 Q8,106 -5,96 Z" fill="#f4e8b0" opacity="1" filter="url(#b2)"/><ellipse cx="20" cy="98" rx="8" ry="7" fill="#f0b840" opacity="0.9" filter="url(#b2)" transform="rotate(30 20 98)"/><ellipse cx="8" cy="78" rx="6" ry="5" fill="#f2c860" opacity="0.7" filter="url(#b2)" transform="rotate(30 8 78)"/><ellipse cx="34" cy="112" rx="7" ry="5" fill="#f0c050" opacity="0.8" filter="url(#b2)"/><ellipse cx="3" cy="50" rx="4" ry="9" fill="#d4ecdc" opacity="0.95" filter="url(#b2)"/><path d="M138,120 Q146,100 175,84 V120 Z" fill="#a2603c" opacity="1" filter="url(#b3)"/><ellipse cx="150" cy="104" rx="10" ry="4" fill="#5a3028" opacity="0.6" filter="url(#b2)" transform="rotate(-40 150 104)"/></g>
<clipPath id="cg3"><rect x="0" y="0" width="146" height="114.7"/></clipPath><g transform="translate(970.3 781.5)" clip-path="url(#cg3)"><rect x="-2" y="-2" width="150" height="118.7" fill="#c44c80"/><ellipse cx="22" cy="60" rx="26" ry="34" fill="#b23268" opacity="1" filter="url(#b4)"/><ellipse cx="80" cy="56" rx="22" ry="22" fill="#cc4c88" opacity="0.9" filter="url(#b4)"/><ellipse cx="60" cy="30" rx="17" ry="12" fill="#c69ac8" opacity="0.7" filter="url(#b4)"/><ellipse cx="102" cy="30" rx="19" ry="14" fill="#c49ace" opacity="0.75" filter="url(#b4)"/><ellipse cx="132" cy="34" rx="14" ry="11" fill="#cc9acc" opacity="0.75" filter="url(#b4)"/><ellipse cx="82" cy="28" rx="8" ry="14" fill="#c05a98" opacity="0.7" filter="url(#b3)"/><ellipse cx="96" cy="8" rx="22" ry="5" fill="#c4b0aa" opacity="0.85" filter="url(#b3)" transform="rotate(4 96 8)"/><path d="M112,50 Q130,40 150,40 V96 Q120,100 90,112 Q70,118 56,120 Q80,96 100,78 Q110,62 112,50 Z" fill="#e6446e" opacity="0.95" filter="url(#b4)"/><ellipse cx="136" cy="66" rx="12" ry="8" fill="#f06c84" opacity="0.8" filter="url(#b3)" transform="rotate(-20 136 66)"/><ellipse cx="120" cy="100" rx="32" ry="10" fill="#e2608c" opacity="0.9" filter="url(#b4)" transform="rotate(-8 120 100)"/><ellipse cx="42" cy="74" rx="12" ry="13" fill="#e2b2b6" opacity="0.95" filter="url(#b3)" transform="rotate(10 42 74)"/><ellipse cx="41" cy="73" rx="4" ry="3" fill="#ea8a7a" opacity="0.9" filter="url(#b2)"/><ellipse cx="64" cy="88" rx="18" ry="7" fill="#e4b4bc" opacity="0.9" filter="url(#b3)" transform="rotate(-8 64 88)"/><ellipse cx="58" cy="100" rx="10" ry="5" fill="#e66a8c" opacity="0.8" filter="url(#b2)" transform="rotate(-10 58 100)"/><path d="M-5,-5 H36 Q20,12 10,28 Q4,40 -5,48 Z" fill="#ec8098" opacity="1" filter="url(#b2)"/><path d="M34,-4 H150 V-2 H34 Z" fill="#6a1630" opacity="0.9" filter="url(#b2)"/><path d="M30,-5 H80 Q60,0 38,6 Q32,6 30,-5 Z" fill="#6a1630" opacity="0.9" filter="url(#b2)"/><path d="M108,-5 H150 V20 Q130,14 108,-5 Z" fill="#a03a58" opacity="1" filter="url(#b2)"/><path d="M116,6 Q132,10 150,8 V20 Q132,18 116,6 Z" fill="#5e1228" opacity="0.95" filter="url(#b2)"/><path d="M-5,84 Q14,92 30,104 Q40,112 46,120 H-5 Z" fill="#d0ece4" opacity="1" filter="url(#b2)"/><ellipse cx="34" cy="98" rx="12" ry="7" fill="#e6dcc6" opacity="0.85" filter="url(#b3)" transform="rotate(25 34 98)"/><ellipse cx="10" cy="110" rx="8" ry="3" fill="#9cc8c0" opacity="0.6" filter="url(#b1)" transform="rotate(20 10 110)"/></g>
<text x="686" y="917" font-size="15.2" fill="#222" text-anchor="middle" textLength="92" lengthAdjust="spacingAndGlyphs">Presentation</text>
<text x="877.5" y="915" font-size="15.2" fill="#222" text-anchor="middle" textLength="67" lengthAdjust="spacingAndGlyphs">21 d later</text>
<text x="1040" y="915" font-size="15.2" fill="#222" text-anchor="middle" textLength="70" lengthAdjust="spacingAndGlyphs">42 d later</text>
<text x="655.3" y="966.6" font-size="25" font-weight="700" fill="#000" stroke="#000" stroke-width="0.7" textLength="16" lengthAdjust="spacingAndGlyphs">h</text>
<clipPath id="ch1"><rect x="0" y="0" width="181" height="181.2"/></clipPath><g transform="translate(676.2 962.3)" clip-path="url(#ch1)"><rect x="-2" y="-2" width="185" height="185" fill="#000"/><path d="M86.4,8.1 C93.5,8.1 101.3,12.6 107.6,17.1 C113.8,21.5 119.2,30.1 123.8,34.9 C128.4,39.8 130.9,43.1 135.2,46.3 C139.5,49.6 144.9,50.4 149.8,54.4 C154.7,58.5 160.9,64.7 164.4,70.7 C168.0,76.6 169.6,83.1 170.9,90.2 C172.3,97.2 171.6,106.2 172.6,112.9 C173.5,119.7 175.8,126.3 176.6,130.8 C177.4,135.3 178.7,135.7 177.4,139.7 C176.2,143.8 171.8,149.9 169.3,155.2 C166.9,160.5 164.2,166.0 162.8,171.4 C161.5,176.8 185.0,185.0 161.2,187.7 C137.4,190.4 43.9,190.9 19.8,187.7 C-4.3,184.4 18.2,174.1 16.6,168.2 C14.9,162.2 12.2,157.2 10.1,151.9 C7.9,146.7 4.7,141.4 3.6,136.5 C2.5,131.6 2.8,126.6 3.6,122.7 C4.4,118.8 7.4,118.4 8.4,112.9 C9.5,107.5 8.7,97.5 10.1,90.2 C11.4,82.9 13.9,75.0 16.6,69.1 C19.3,63.1 22.5,58.5 26.3,54.4 C30.1,50.4 35.5,47.9 39.3,44.7 C43.1,41.4 44.7,39.5 49.1,34.9 C53.4,30.3 59.1,21.5 65.3,17.1 C71.6,12.6 79.4,8.1 86.4,8.1 Z" fill="#128a80" stroke="#34e0d2" stroke-width="2.2" filter="url(#b2)"/><path d="M87.1,25.1 C93.0,25.1 99.6,29.0 104.8,32.8 C110.1,36.7 114.6,44.0 118.5,48.2 C122.4,52.4 124.4,55.2 128.0,58.0 C131.7,60.8 136.2,61.5 140.3,65.0 C144.4,68.5 149.7,73.8 152.6,78.9 C155.6,84.1 156.9,89.7 158.1,95.7 C159.2,101.8 158.6,109.5 159.4,115.3 C160.2,121.1 162.2,126.8 162.9,130.6 C163.5,134.5 164.6,134.8 163.5,138.3 C162.5,141.8 158.8,147.1 156.7,151.6 C154.7,156.2 152.4,160.9 151.3,165.6 C150.1,170.2 169.9,177.2 149.9,179.6 C129.9,181.9 51.4,182.4 31.1,179.6 C10.9,176.8 29.8,167.9 28.4,162.8 C27.0,157.7 24.8,153.4 22.9,148.8 C21.1,144.3 18.4,139.7 17.5,135.5 C16.6,131.3 16.8,127.0 17.5,123.7 C18.2,120.3 20.7,119.9 21.6,115.3 C22.5,110.6 21.8,102.0 22.9,95.7 C24.1,89.4 26.1,82.7 28.4,77.5 C30.7,72.4 33.4,68.5 36.6,65.0 C39.8,61.5 44.3,59.4 47.5,56.6 C50.7,53.8 52.1,52.2 55.7,48.2 C59.3,44.2 64.1,36.7 69.4,32.8 C74.6,29.0 81.2,25.1 87.1,25.1 Z" fill="#2fc2b6" opacity="0.95" filter="url(#b4)"/><ellipse cx="91.3" cy="106.4" rx="42.2" ry="53.6" fill="#3ed4c8" opacity="0.8" filter="url(#b4)"/><ellipse cx="27.1" cy="90.2" rx="8.9" ry="19.5" fill="#86d2c2" opacity="0.8" filter="url(#b3)" transform="rotate(8 27.1 90.2)"/><ellipse cx="152.3" cy="90.2" rx="9.7" ry="19.5" fill="#7fd0c0" opacity="0.8" filter="url(#b3)" transform="rotate(-8 152.3 90.2)"/><ellipse cx="31.2" cy="163.3" rx="11.4" ry="9.7" fill="#107a72" opacity="0.7" filter="url(#b3)"/><ellipse cx="149.8" cy="164.9" rx="11.4" ry="9.7" fill="#107a72" opacity="0.7" filter="url(#b3)"/><ellipse cx="91.3" cy="135.7" rx="58.5" ry="16.2" fill="#6690e4" opacity="0.8" filter="url(#b4)"/><ellipse cx="47.4" cy="135.7" rx="14.6" ry="9.7" fill="#7a78e4" opacity="0.7" filter="url(#b3)"/><ellipse cx="136.8" cy="135.7" rx="14.6" ry="11.4" fill="#7a78e4" opacity="0.7" filter="url(#b3)"/><ellipse cx="42.6" cy="155.2" rx="13.0" ry="9.7" fill="#7c7ce6" opacity="0.55" filter="url(#b3)"/><ellipse cx="62.1" cy="174.7" rx="11.4" ry="8.1" fill="#7c7ce6" opacity="0.55" filter="url(#b3)"/><ellipse cx="123.8" cy="169.8" rx="13.0" ry="9.7" fill="#7c7ce6" opacity="0.55" filter="url(#b3)"/><ellipse cx="140.1" cy="151.9" rx="11.4" ry="9.7" fill="#7c7ce6" opacity="0.55" filter="url(#b3)"/><ellipse cx="26.3" cy="132.4" rx="9.7" ry="8.1" fill="#7c7ce6" opacity="0.55" filter="url(#b3)"/><ellipse cx="157.9" cy="138.9" rx="9.7" ry="8.1" fill="#7c7ce6" opacity="0.55" filter="url(#b3)"/><ellipse cx="91.3" cy="127.6" rx="32.5" ry="6.5" fill="#7c7ce6" opacity="0.55" filter="url(#b3)"/><path d="M86.4,10.6 C93.5,10.6 101.3,15.4 107.6,20.3 C113.8,25.2 120.3,33.6 123.8,39.8 C127.3,46.0 129.8,54.2 128.7,57.7 C127.6,61.2 124.4,65.0 117.3,60.9 C110.3,56.9 96.2,33.6 86.4,33.3 C76.7,33.0 65.6,55.2 58.8,59.3 C52.1,63.4 47.2,61.2 45.8,57.7 C44.5,54.2 47.4,44.4 50.7,38.2 C53.9,32.0 59.4,24.9 65.3,20.3 C71.3,15.7 79.4,10.6 86.4,10.6 Z" fill="#ee55e4" opacity="0.95" filter="url(#b3)"/><path d="M86.4,39.8 C91.6,40.4 99.4,45.0 104.3,51.2 C109.2,57.4 113.5,68.0 115.7,77.2 C117.9,86.4 118.7,98.9 117.3,106.4 C116.0,114.0 113.0,119.4 107.6,122.7 C102.2,125.9 92.4,126.5 84.8,125.9 C77.2,125.4 66.7,124.3 62.1,119.4 C57.5,114.6 56.7,105.4 57.2,96.7 C57.7,88.0 62.6,75.6 65.3,67.4 C68.0,59.3 69.9,52.5 73.4,47.9 C77.0,43.3 81.3,39.3 86.4,39.8 Z" fill="#7488ea" filter="url(#b3)"/><ellipse cx="86.4" cy="47.9" rx="13.0" ry="8.9" fill="#e052dc" opacity="0.85" filter="url(#b3)"/><ellipse cx="84.8" cy="116.2" rx="27.6" ry="11.4" fill="#e45ad8" opacity="0.85" filter="url(#b3)"/><ellipse cx="63.7" cy="96.7" rx="7.3" ry="14.6" fill="#d860e0" opacity="0.6" filter="url(#b3)"/><path d="M32.0,116.2 C33.8,111.9 38.1,99.9 42.6,90.2 C47.0,80.4 53.9,66.1 58.8,57.7 C63.7,49.3 67.2,43.9 71.8,39.8 C76.4,35.7 81.6,33.3 86.4,33.3 C91.3,33.3 95.9,35.2 101.1,39.8 C106.2,44.4 111.9,52.5 117.3,60.9 C122.7,69.3 128.7,81.0 133.6,90.2 C138.4,99.4 144.4,111.9 146.6,116.2" fill="none" stroke="#b8fffa" stroke-width="9" stroke-linecap="round" filter="url(#b2)"/><path d="M32.0,116.2 C33.8,111.9 38.1,99.9 42.6,90.2 C47.0,80.4 56.1,63.1 58.8,57.7" fill="none" stroke="#c4fffc" stroke-width="15" stroke-linecap="round" filter="url(#b2)"/><path d="M117.3,60.9 C120.0,65.8 128.7,81.0 133.6,90.2 C138.4,99.4 144.4,111.9 146.6,116.2" fill="none" stroke="#bcfffa" stroke-width="10.5" stroke-linecap="round" filter="url(#b2)"/><path d="M58.8,57.7 C61.0,54.7 67.2,43.9 71.8,39.8 C76.4,35.7 81.6,33.3 86.4,33.3 C91.3,33.3 95.9,35.2 101.1,39.8 C106.2,44.4 114.6,57.4 117.3,60.9" fill="none" stroke="#fff0ff" stroke-width="3" stroke-linecap="round" opacity="0.8" filter="url(#b1)"/><ellipse cx="42.6" cy="88.6" rx="1.6" ry="3.6" fill="#157a70" opacity="0.9" filter="url(#b1)" transform="rotate(25 42.6 88.6)"/><ellipse cx="129.5" cy="86.9" rx="1.5" ry="2.9" fill="#1f8f84" opacity="0.8" filter="url(#b1)" transform="rotate(-25 129.5 86.9)"/><path d="M99.4,23.6 C100.0,21.9 107.0,24.1 110.8,26.8 C114.6,29.5 120.3,36.3 122.2,39.8 C124.1,43.3 123.6,46.9 122.2,47.9 C120.8,49.0 116.5,48.2 114.1,46.3 C111.6,44.4 110.0,40.4 107.6,36.6 C105.1,32.8 98.9,25.2 99.4,23.6 Z" fill="#ff9434" filter="url(#b2)"/><ellipse cx="114.9" cy="41.4" rx="3.6" ry="4.9" fill="#ffe45a" opacity="1" filter="url(#b2)" transform="rotate(-30 114.9 41.4)"/><ellipse cx="82.4" cy="22.7" rx="6.5" ry="2.3" fill="#ffa45a" opacity="0.85" filter="url(#b2)"/><path d="M84.8,77.2 C85.9,72.9 92.9,66.1 97.8,64.2 C102.7,62.3 110.0,62.6 114.1,65.8 C118.1,69.1 121.1,77.5 122.2,83.7 C123.3,89.9 122.5,97.5 120.6,103.2 C118.7,108.9 114.3,116.2 110.8,117.8 C107.3,119.4 101.1,116.5 99.4,112.9 C97.8,109.4 102.4,100.5 101.1,96.7 C99.7,92.9 94.0,93.4 91.3,90.2 C88.6,86.9 83.7,81.5 84.8,77.2 Z" fill="#ff52c4" filter="url(#b3)"/><path d="M87.3,77.2 C88.1,73.9 93.6,69.2 97.8,67.8 C102.0,66.4 109.1,66.1 112.4,68.7 C115.8,71.4 117.5,78.5 118.1,83.7 C118.8,88.9 118.1,95.1 116.5,99.9 C114.9,104.8 110.7,111.4 108.4,112.9 C106.0,114.4 103.0,111.9 102.4,108.9 C101.7,105.9 105.9,98.6 104.3,95.1 C102.8,91.5 95.8,90.7 92.9,87.7 C90.1,84.8 86.4,80.5 87.3,77.2 Z" fill="#ffa41e" filter="url(#b2)"/><path d="M91.0,77.5 C91.1,75.1 95.4,72.4 98.6,71.5 C101.9,70.6 107.9,70.0 110.5,72.0 C113.1,74.0 113.9,79.6 114.4,83.7 C114.9,87.8 114.4,93.0 113.3,96.7 C112.1,100.3 109.1,104.7 107.6,105.6 C106.1,106.6 104.5,104.5 104.3,102.4 C104.2,100.2 107.8,95.3 106.8,92.6 C105.7,89.9 100.4,88.6 97.8,86.1 C95.2,83.6 90.9,79.9 91.0,77.5 Z" fill="#fffff0" filter="url(#b2)"/><ellipse cx="65.3" cy="105.6" rx="8.9" ry="8.1" fill="#ff58c8" opacity="0.95" filter="url(#b3)"/><ellipse cx="65.3" cy="105.9" rx="5.8" ry="5.2" fill="#ffa020" opacity="1" filter="url(#b2)"/><ellipse cx="64.7" cy="105.5" rx="2.9" ry="2.8" fill="#fffbd8" opacity="1" filter="url(#b2)"/><ellipse cx="72.6" cy="108.2" rx="1.6" ry="1.1" fill="#7a2a18" opacity="0.9" filter="url(#b1)"/><path d="M84.8,107.7 C86.2,108.0 90.0,108.9 92.9,109.0 C95.9,109.1 101.1,108.5 102.7,108.4" fill="none" stroke="#5a1630" stroke-width="3.2" stroke-linecap="round" filter="url(#b1)"/><ellipse cx="93.3" cy="112.6" rx="2.3" ry="3.2" fill="#3a1468" opacity="0.95" filter="url(#b1)"/><ellipse cx="88.6" cy="120.6" rx="9.1" ry="3.9" fill="#180c62" opacity="1" filter="url(#b1)" transform="rotate(-4 88.6 120.6)"/><path d="M58.8,134.1 C61.0,130.9 65.3,130.5 70.2,130.0 C75.1,129.5 81.8,130.8 88.1,130.8 C94.3,130.8 102.6,129.2 107.6,130.0 C112.6,130.8 116.1,132.8 118.1,135.7 C120.2,138.5 120.4,143.5 119.8,147.1 C119.1,150.6 115.6,153.3 114.1,156.8 C112.6,160.3 113.5,164.9 110.8,168.2 C108.1,171.4 102.2,175.0 97.8,176.3 C93.5,177.7 89.2,177.4 84.8,176.3 C80.5,175.2 75.1,172.8 71.8,169.8 C68.6,166.8 67.8,162.0 65.3,158.4 C62.9,154.9 58.3,152.7 57.2,148.7 C56.1,144.6 56.7,137.2 58.8,134.1 Z" fill="#d2fff8" filter="url(#b2)"/><ellipse cx="88.9" cy="139.7" rx="27.6" ry="7.3" fill="#f2ffff" opacity="1" filter="url(#b2)"/><path d="M70.2,153.6 C71.6,150.3 80.2,149.5 84.8,148.7 C89.4,147.9 93.5,147.9 97.8,148.7 C102.2,149.5 109.2,150.6 110.8,153.6 C112.4,156.5 110.8,163.3 107.6,166.6 C104.3,169.8 96.5,172.8 91.3,173.1 C86.2,173.3 80.2,171.4 76.7,168.2 C73.2,164.9 68.8,156.8 70.2,153.6 Z" fill="#7d74ea" filter="url(#b2)"/><ellipse cx="91.3" cy="161.7" rx="9.7" ry="6.5" fill="#a862e2" opacity="0.9" filter="url(#b2)"/><path d="M131.9,138.1 C131.4,139.9 130.1,145.8 128.7,148.7 C127.3,151.5 124.6,154.1 123.8,155.2" fill="none" stroke="#e8ffff" stroke-width="2.6" stroke-linecap="round" filter="url(#b1)"/><ellipse cx="65.3" cy="171.4" rx="4.1" ry="6.5" fill="#8aeee2" opacity="0.7" filter="url(#b2)" transform="rotate(-30 65.3 171.4)"/></g>
<clipPath id="ch2"><rect x="0" y="0" width="177.2" height="181.2"/></clipPath><g transform="translate(863.9 962.3)" clip-path="url(#ch2)"><rect x="-2" y="-2" width="181.2" height="185" fill="#000"/><path d="M86.9,15.4 C93.2,15.4 99.1,20.0 104.8,23.6 C110.5,27.1 116.7,33.0 121.1,36.6 C125.4,40.1 126.7,41.7 130.8,44.7 C134.9,47.7 140.6,50.1 145.4,54.4 C150.3,58.8 156.5,64.7 160.1,70.7 C163.6,76.6 165.2,83.1 166.6,90.2 C167.9,97.2 167.1,107.0 168.2,112.9 C169.3,118.9 172.2,121.6 173.1,125.9 C173.9,130.3 174.1,134.6 173.1,138.9 C172.0,143.3 169.0,147.1 166.6,151.9 C164.1,156.8 160.1,162.2 158.4,168.2 C156.8,174.1 179.6,184.4 156.8,187.7 C134.1,190.9 45.0,192.0 21.9,187.7 C-1.1,183.3 20.6,168.2 18.7,161.7 C16.8,155.2 13.1,153.0 10.6,148.7 C8.0,144.4 4.5,139.7 3.2,135.7 C2.0,131.6 2.6,128.1 3.2,124.3 C3.9,120.5 6.4,118.6 7.3,112.9 C8.3,107.2 7.6,97.2 8.9,90.2 C10.3,83.1 12.5,76.1 15.4,70.7 C18.4,65.3 22.7,61.5 26.8,57.7 C30.9,53.9 35.7,50.9 39.8,47.9 C43.9,45.0 46.6,43.9 51.2,39.8 C55.8,35.7 61.5,27.6 67.4,23.6 C73.4,19.5 80.7,15.4 86.9,15.4 Z" fill="#128a80" stroke="#34e0d2" stroke-width="2.2" filter="url(#b2)"/><path d="M87.1,31.4 C92.3,31.4 97.3,35.4 102.1,38.4 C106.9,41.4 112.1,46.6 115.7,49.6 C119.4,52.6 120.5,54.0 123.9,56.6 C127.3,59.1 132.1,61.2 136.2,65.0 C140.3,68.7 145.5,73.8 148.5,78.9 C151.4,84.1 152.8,89.7 153.9,95.7 C155.1,101.8 154.4,110.2 155.3,115.3 C156.2,120.4 158.7,122.7 159.4,126.5 C160.1,130.2 160.3,133.9 159.4,137.6 C158.5,141.4 156.0,144.6 153.9,148.8 C151.9,153.0 148.5,157.7 147.1,162.8 C145.8,167.9 164.9,176.8 145.8,179.6 C126.6,182.4 51.8,183.3 32.5,179.6 C13.1,175.8 31.3,162.8 29.7,157.2 C28.1,151.6 25.1,149.7 22.9,146.0 C20.8,142.3 17.8,138.3 16.8,134.8 C15.7,131.3 16.2,128.3 16.8,125.1 C17.3,121.8 19.4,120.2 20.2,115.3 C21.0,110.4 20.4,101.8 21.5,95.7 C22.7,89.7 24.5,83.6 27.0,78.9 C29.5,74.3 33.1,71.0 36.6,67.8 C40.0,64.5 44.1,61.9 47.5,59.4 C50.9,56.8 53.2,55.9 57.0,52.4 C60.9,48.9 65.7,41.9 70.7,38.4 C75.7,34.9 81.8,31.4 87.1,31.4 Z" fill="#2fc2b6" opacity="0.95" filter="url(#b4)"/><ellipse cx="88.6" cy="111.3" rx="42.2" ry="53.6" fill="#3ed4c8" opacity="0.8" filter="url(#b4)"/><ellipse cx="26.8" cy="90.2" rx="8.9" ry="19.5" fill="#86d2c2" opacity="0.8" filter="url(#b3)" transform="rotate(8 26.8 90.2)"/><ellipse cx="149.5" cy="90.2" rx="9.7" ry="19.5" fill="#7fd0c0" opacity="0.8" filter="url(#b3)" transform="rotate(-8 149.5 90.2)"/><ellipse cx="28.4" cy="163.3" rx="11.4" ry="9.7" fill="#107a72" opacity="0.7" filter="url(#b3)"/><ellipse cx="147.1" cy="164.9" rx="11.4" ry="9.7" fill="#107a72" opacity="0.7" filter="url(#b3)"/><ellipse cx="88.6" cy="135.7" rx="58.5" ry="16.2" fill="#6690e4" opacity="0.8" filter="url(#b4)"/><ellipse cx="44.7" cy="135.7" rx="14.6" ry="9.7" fill="#7a78e4" opacity="0.7" filter="url(#b3)"/><ellipse cx="134.1" cy="135.7" rx="14.6" ry="11.4" fill="#7a78e4" opacity="0.7" filter="url(#b3)"/><ellipse cx="39.8" cy="157.6" rx="13.0" ry="9.7" fill="#7c7ce6" opacity="0.55" filter="url(#b3)"/><ellipse cx="59.3" cy="177.1" rx="11.4" ry="8.1" fill="#7c7ce6" opacity="0.55" filter="url(#b3)"/><ellipse cx="121.1" cy="172.2" rx="13.0" ry="9.7" fill="#7c7ce6" opacity="0.55" filter="url(#b3)"/><ellipse cx="137.3" cy="154.4" rx="11.4" ry="9.7" fill="#7c7ce6" opacity="0.55" filter="url(#b3)"/><ellipse cx="23.6" cy="134.9" rx="9.7" ry="8.1" fill="#7c7ce6" opacity="0.55" filter="url(#b3)"/><ellipse cx="155.2" cy="141.4" rx="9.7" ry="8.1" fill="#7c7ce6" opacity="0.55" filter="url(#b3)"/><ellipse cx="88.6" cy="130.0" rx="32.5" ry="6.5" fill="#7c7ce6" opacity="0.55" filter="url(#b3)"/><ellipse cx="157.6" cy="125.1" rx="8.9" ry="9.7" fill="#8e6ee4" opacity="0.9" filter="url(#b3)"/><ellipse cx="31.7" cy="129.2" rx="8.1" ry="6.5" fill="#8e78e4" opacity="0.7" filter="url(#b3)"/><path d="M86.9,17.9 C93.2,17.9 99.4,22.1 104.8,26.0 C110.2,29.9 116.2,36.2 119.4,41.4 C122.7,46.7 125.4,54.4 124.3,57.7 C123.2,60.9 119.4,64.5 112.9,60.9 C106.4,57.4 94.2,36.8 85.3,36.6 C76.4,36.3 65.8,55.8 59.3,59.3 C52.8,62.8 47.7,60.7 46.3,57.7 C45.0,54.7 47.7,46.7 51.2,41.4 C54.7,36.2 61.5,29.9 67.4,26.0 C73.4,22.1 80.7,17.9 86.9,17.9 Z" fill="#ee55e4" opacity="0.95" filter="url(#b3)"/><path d="M85.3,41.4 C90.5,42.0 98.6,48.5 103.2,54.4 C107.8,60.4 110.8,68.5 112.9,77.2 C115.1,85.9 117.5,98.9 116.2,106.4 C114.8,114.0 110.5,119.2 104.8,122.7 C99.1,126.2 89.4,127.8 82.1,127.6 C74.7,127.3 65.3,125.9 60.9,121.1 C56.6,116.2 55.5,107.0 56.1,98.3 C56.6,89.6 61.5,76.9 64.2,69.1 C66.9,61.2 68.8,55.8 72.3,51.2 C75.8,46.6 80.2,40.9 85.3,41.4 Z" fill="#7488ea" filter="url(#b3)"/><ellipse cx="83.7" cy="49.6" rx="13.0" ry="8.9" fill="#e052dc" opacity="0.85" filter="url(#b3)"/><ellipse cx="82.1" cy="116.2" rx="27.6" ry="11.4" fill="#e45ad8" opacity="0.85" filter="url(#b3)"/><ellipse cx="60.9" cy="96.7" rx="7.3" ry="14.6" fill="#d860e0" opacity="0.6" filter="url(#b3)"/><path d="M30.1,119.4 C32.0,114.8 36.6,102.1 41.4,91.8 C46.3,81.5 54.2,66.1 59.3,57.7 C64.5,49.3 68.0,45.0 72.3,41.4 C76.6,37.9 80.7,36.3 85.3,36.6 C89.9,36.8 95.6,39.0 99.9,43.1 C104.3,47.1 106.2,53.1 111.3,60.9 C116.5,68.8 125.1,81.0 130.8,90.2 C136.5,99.4 143.0,111.9 145.4,116.2" fill="none" stroke="#b8fffa" stroke-width="9" stroke-linecap="round" filter="url(#b2)"/><path d="M30.1,119.4 C32.0,114.8 36.6,102.1 41.4,91.8 C46.3,81.5 56.3,63.4 59.3,57.7" fill="none" stroke="#c4fffc" stroke-width="15" stroke-linecap="round" filter="url(#b2)"/><path d="M111.3,60.9 C114.6,65.8 125.1,81.0 130.8,90.2 C136.5,99.4 143.0,111.9 145.4,116.2" fill="none" stroke="#bcfffa" stroke-width="10.5" stroke-linecap="round" filter="url(#b2)"/><path d="M59.3,57.7 C61.5,55.0 68.0,45.0 72.3,41.4 C76.6,37.9 80.7,36.3 85.3,36.6 C89.9,36.8 95.6,39.0 99.9,43.1 C104.3,47.1 109.4,58.0 111.3,60.9" fill="none" stroke="#fff0ff" stroke-width="3" stroke-linecap="round" opacity="0.8" filter="url(#b1)"/><ellipse cx="39.8" cy="88.6" rx="1.6" ry="3.6" fill="#157a70" opacity="0.9" filter="url(#b1)" transform="rotate(25 39.8 88.6)"/><ellipse cx="126.7" cy="86.9" rx="1.5" ry="2.9" fill="#1f8f84" opacity="0.8" filter="url(#b1)" transform="rotate(-25 126.7 86.9)"/><ellipse cx="111.3" cy="39.8" rx="4.5" ry="6.2" fill="#ff9a6a" opacity="0.75" filter="url(#b3)" transform="rotate(-30 111.3 39.8)"/><ellipse cx="101.6" cy="83.7" rx="13.0" ry="9.7" fill="#f658cc" opacity="0.9" filter="url(#b3)"/><ellipse cx="101.9" cy="82.4" rx="8.4" ry="4.9" fill="#ffa028" opacity="1" filter="url(#b2)" transform="rotate(5 101.9 82.4)"/><ellipse cx="101.6" cy="82.1" rx="5.5" ry="2.4" fill="#fffce0" opacity="1" filter="url(#b2)" transform="rotate(5 101.6 82.1)"/><ellipse cx="69.1" cy="106.4" rx="11.4" ry="9.4" fill="#f658cc" opacity="0.95" filter="url(#b3)"/><ellipse cx="69.4" cy="106.8" rx="7.1" ry="5.8" fill="#ffa020" opacity="1" filter="url(#b2)" transform="rotate(20 69.4 106.8)"/><ellipse cx="68.7" cy="107.1" rx="3.9" ry="3.2" fill="#fffbd8" opacity="1" filter="url(#b2)" transform="rotate(25 68.7 107.1)"/><ellipse cx="105.8" cy="104.8" rx="2.3" ry="3.6" fill="#ffa040" opacity="0.9" filter="url(#b2)"/><path d="M82.1,106.4 C83.7,106.9 88.6,108.9 91.8,109.0 C95.1,109.2 99.9,107.7 101.6,107.4" fill="none" stroke="#3c1266" stroke-width="4.5" stroke-linecap="round" filter="url(#b1)"/><ellipse cx="92.6" cy="111.0" rx="3.6" ry="2.3" fill="#3a1478" opacity="0.95" filter="url(#b1)"/><ellipse cx="87.9" cy="119.9" rx="9.1" ry="4.1" fill="#1c0c6a" opacity="1" filter="url(#b1)" transform="rotate(-6 87.9 119.9)"/><path d="M59.3,137.3 C61.6,134.5 67.4,133.8 72.3,133.2 C77.2,132.7 82.6,134.1 88.6,134.1 C94.5,134.1 103.2,132.4 108.1,133.2 C112.9,134.1 115.9,136.1 117.8,138.9 C119.7,141.8 119.7,146.8 119.4,150.3 C119.2,153.8 118.1,156.5 116.2,160.1 C114.3,163.6 111.6,168.2 108.1,171.4 C104.5,174.7 99.4,178.2 95.1,179.6 C90.7,180.9 86.4,180.9 82.1,179.6 C77.7,178.2 72.3,174.4 69.1,171.4 C65.8,168.5 64.3,165.2 62.6,161.7 C60.8,158.2 59.0,154.4 58.5,150.3 C58.0,146.2 57.0,140.2 59.3,137.3 Z" fill="#d2fff8" filter="url(#b2)"/><ellipse cx="86.1" cy="143.0" rx="27.6" ry="7.3" fill="#f2ffff" opacity="1" filter="url(#b2)"/><path d="M72.3,156.8 C73.1,154.0 78.3,153.4 82.1,152.7 C85.9,152.1 91.0,152.1 95.1,152.7 C99.1,153.4 105.1,154.0 106.4,156.8 C107.8,159.7 105.9,166.7 103.2,169.8 C100.5,172.9 94.5,175.5 90.2,175.5 C85.9,175.5 80.2,172.9 77.2,169.8 C74.2,166.7 71.5,159.7 72.3,156.8 Z" fill="#7d74ea" filter="url(#b2)"/><ellipse cx="88.6" cy="164.1" rx="9.7" ry="6.5" fill="#5aa8d8" opacity="0.9" filter="url(#b2)"/><ellipse cx="90.2" cy="160.1" rx="4.9" ry="4.1" fill="#a060e0" opacity="0.8" filter="url(#b2)"/><path d="M130.8,137.3 C131.4,139.2 133.0,145.7 134.1,148.7 C135.1,151.7 136.8,154.1 137.3,155.2" fill="none" stroke="#d8fffa" stroke-width="5" stroke-linecap="round" filter="url(#b1)"/><path d="M44.7,145.4 C46.0,146.8 50.1,150.9 52.8,153.6 C55.5,156.3 59.6,160.3 60.9,161.7" fill="none" stroke="#d8fffa" stroke-width="6" stroke-linecap="round" filter="url(#b1)"/></g>
<text x="767" y="1161" font-size="15.2" fill="#222" text-anchor="middle" textLength="24" lengthAdjust="spacingAndGlyphs">Pre</text>
<text x="951" y="1161" font-size="15.2" fill="#222" text-anchor="middle" textLength="31" lengthAdjust="spacingAndGlyphs">Post</text>
<text x="0.6" y="1240.3" font-size="25" font-weight="700" fill="#000" stroke="#000" stroke-width="0.7" textLength="16" lengthAdjust="spacingAndGlyphs">d</text>
<path d="M125.63,1249.00 H367.22 V1299.73 H214.14 V1283.89 H180.41 V1269.67 H125.63 V1249.00 Z" fill="#b3c7de"/>
<path d="M93.10,1249.00 H125.63 V1256.38 H180.41 V1264.84 H214.14 V1275.30 H368.22" stroke="#1f5c99" stroke-width="1.5" fill="none"/>
<path d="M139.50,1254.18 v4.4 M174.43,1254.18 v4.4 M183.76,1262.64 v4.4 M187.34,1262.64 v4.4 M209.59,1262.64 v4.4 M241.40,1273.10 v4.4 M250.25,1273.10 v4.4 M265.08,1273.10 v4.4 M268.67,1273.10 v4.4 M276.09,1273.10 v4.4 M297.14,1273.10 v4.4 M317.95,1273.10 v4.4 M343.30,1273.10 v4.4 M362.68,1273.10 v4.4 M366.03,1273.10 v4.4 " stroke="#1f5c99" stroke-width="1" fill="none"/>
<path d="M78.75,1243.00 V1390.2 H394.8" stroke="#555" stroke-width="1" fill="none"/>
<line x1="74.75" x2="78.75" y1="1383.20" y2="1383.20" stroke="#555" stroke-width="1"/>
<text x="69.55" y="1387.9" font-size="13" fill="#333" text-anchor="end" textLength="8" lengthAdjust="spacingAndGlyphs">0</text>
<line x1="74.75" x2="78.75" y1="1349.65" y2="1349.65" stroke="#555" stroke-width="1"/>
<text x="69.55" y="1354.35" font-size="13" fill="#333" text-anchor="end" textLength="27" lengthAdjust="spacingAndGlyphs">0.25</text>
<line x1="74.75" x2="78.75" y1="1316.10" y2="1316.10" stroke="#555" stroke-width="1"/>
<text x="69.55" y="1320.8" font-size="13" fill="#333" text-anchor="end" textLength="27" lengthAdjust="spacingAndGlyphs">0.50</text>
<line x1="74.75" x2="78.75" y1="1282.55" y2="1282.55" stroke="#555" stroke-width="1"/>
<text x="69.55" y="1287.25" font-size="13" fill="#333" text-anchor="end" textLength="27" lengthAdjust="spacingAndGlyphs">0.75</text>
<line x1="74.75" x2="78.75" y1="1249.00" y2="1249.00" stroke="#555" stroke-width="1"/>
<text x="69.55" y="1253.7" font-size="13" fill="#333" text-anchor="end" textLength="27" lengthAdjust="spacingAndGlyphs">1.00</text>
<line x1="93.10" x2="93.10" y1="1390.2" y2="1393.7" stroke="#555" stroke-width="1"/>
<text x="93.1" y="1409.9" font-size="13" fill="#333" text-anchor="middle" textLength="8.6" lengthAdjust="spacingAndGlyphs">0</text>
<line x1="164.86" x2="164.86" y1="1390.2" y2="1393.7" stroke="#555" stroke-width="1"/>
<text x="164.86" y="1409.9" font-size="13" fill="#333" text-anchor="middle" textLength="15.4" lengthAdjust="spacingAndGlyphs">30</text>
<line x1="236.62" x2="236.62" y1="1390.2" y2="1393.7" stroke="#555" stroke-width="1"/>
<text x="236.62" y="1409.9" font-size="13" fill="#333" text-anchor="middle" textLength="15.4" lengthAdjust="spacingAndGlyphs">60</text>
<line x1="308.38" x2="308.38" y1="1390.2" y2="1393.7" stroke="#555" stroke-width="1"/>
<text x="308.38" y="1409.9" font-size="13" fill="#333" text-anchor="middle" textLength="15.4" lengthAdjust="spacingAndGlyphs">90</text>
<line x1="380.14" x2="380.14" y1="1390.2" y2="1393.7" stroke="#555" stroke-width="1"/>
<text x="380.14" y="1409.9" font-size="13" fill="#333" text-anchor="middle" textLength="22" lengthAdjust="spacingAndGlyphs">120</text>
<text x="237.12" y="1433.8" font-size="15.2" fill="#222" text-anchor="middle" textLength="103" lengthAdjust="spacingAndGlyphs">Time in weeks</text>
<text x="11.2" y="1317" font-size="15.2" fill="#222" text-anchor="middle" textLength="96" lengthAdjust="spacingAndGlyphs" transform="rotate(-90 11.2 1317)">Probability of</text>
<text x="31.2" y="1317" font-size="15.2" fill="#222" text-anchor="middle" textLength="111" lengthAdjust="spacingAndGlyphs" transform="rotate(-90 31.2 1317)">overall survival</text>
<text x="79.75" y="1469.8" font-size="15.2" fill="#222" textLength="253" lengthAdjust="spacingAndGlyphs">Number at risk (number censored)</text>
<path d="M77.75,1476.7 V1524 H394.8" stroke="#555" stroke-width="1" fill="none"/>
<line x1="74.25" x2="77.75" y1="1500" y2="1500" stroke="#555" stroke-width="1"/>
<line x1="92.00" x2="92.00" y1="1524" y2="1527.5" stroke="#555" stroke-width="1"/>
<text x="92.0" y="1543.7" font-size="13" fill="#333" text-anchor="middle" textLength="8.6" lengthAdjust="spacingAndGlyphs">0</text>
<text x="95.1" y="1504.2" font-size="12.5" fill="#222" text-anchor="middle" textLength="35" lengthAdjust="spacingAndGlyphs">18 (0)</text>
<line x1="164.03" x2="164.03" y1="1524" y2="1527.5" stroke="#555" stroke-width="1"/>
<text x="164.03" y="1543.7" font-size="13" fill="#333" text-anchor="middle" textLength="15.4" lengthAdjust="spacingAndGlyphs">30</text>
<text x="164.86" y="1504.2" font-size="12.5" fill="#222" text-anchor="middle" textLength="32" lengthAdjust="spacingAndGlyphs">16 (1)</text>
<line x1="236.06" x2="236.06" y1="1524" y2="1527.5" stroke="#555" stroke-width="1"/>
<text x="236.06" y="1543.7" font-size="13" fill="#333" text-anchor="middle" textLength="15.4" lengthAdjust="spacingAndGlyphs">60</text>
<text x="236.62" y="1504.2" font-size="12.5" fill="#222" text-anchor="middle" textLength="35" lengthAdjust="spacingAndGlyphs">10 (5)</text>
<line x1="308.09" x2="308.09" y1="1524" y2="1527.5" stroke="#555" stroke-width="1"/>
<text x="308.09" y="1543.7" font-size="13" fill="#333" text-anchor="middle" textLength="15.4" lengthAdjust="spacingAndGlyphs">90</text>
<text x="308.38" y="1504.2" font-size="12.5" fill="#222" text-anchor="middle" textLength="29.5" lengthAdjust="spacingAndGlyphs">4 (11)</text>
<line x1="380.12" x2="380.12" y1="1524" y2="1527.5" stroke="#555" stroke-width="1"/>
<text x="380.12" y="1543.7" font-size="13" fill="#333" text-anchor="middle" textLength="22" lengthAdjust="spacingAndGlyphs">120</text>
<text x="380.14" y="1504.2" font-size="12.5" fill="#222" text-anchor="middle" textLength="34.5" lengthAdjust="spacingAndGlyphs">0 (15)</text>
<text x="235.62" y="1566" font-size="15.2" fill="#222" text-anchor="middle" textLength="103" lengthAdjust="spacingAndGlyphs">Time in weeks</text>
<path d="M528.92,1249.20 H768.92 V1305.75 H609.64 V1293.82 H583.21 V1282.43 H573.44 V1269.84 H528.92 V1249.20 Z" fill="#b3c7de"/>
<path d="M496.30,1249.20 H528.92 V1256.70 H573.44 V1264.48 H583.21 V1272.38 H609.64 V1281.76 H769.92" stroke="#1f5c99" stroke-width="1.5" fill="none"/>
<path d="M542.49,1254.50 v4.4 M586.06,1270.18 v4.4 M590.11,1270.18 v4.4 M611.78,1279.56 v4.4 M643.68,1279.56 v4.4 M653.45,1279.56 v4.4 M667.73,1279.56 v4.4 M671.30,1279.56 v4.4 M678.45,1279.56 v4.4 M699.64,1279.56 v4.4 M720.11,1279.56 v4.4 M745.11,1279.56 v4.4 M764.16,1279.56 v4.4 M767.73,1279.56 v4.4 " stroke="#1f5c99" stroke-width="1" fill="none"/>
<path d="M482.3,1243.20 V1390.2 H796.2" stroke="#555" stroke-width="1" fill="none"/>
<line x1="478.3" x2="482.3" y1="1383.20" y2="1383.20" stroke="#555" stroke-width="1"/>
<text x="473.1" y="1387.9" font-size="13" fill="#333" text-anchor="end" textLength="8" lengthAdjust="spacingAndGlyphs">0</text>
<line x1="478.3" x2="482.3" y1="1349.70" y2="1349.70" stroke="#555" stroke-width="1"/>
<text x="473.1" y="1354.4" font-size="13" fill="#333" text-anchor="end" textLength="27" lengthAdjust="spacingAndGlyphs">0.25</text>
<line x1="478.3" x2="482.3" y1="1316.20" y2="1316.20" stroke="#555" stroke-width="1"/>
<text x="473.1" y="1320.9" font-size="13" fill="#333" text-anchor="end" textLength="27" lengthAdjust="spacingAndGlyphs">0.50</text>
<line x1="478.3" x2="482.3" y1="1282.70" y2="1282.70" stroke="#555" stroke-width="1"/>
<text x="473.1" y="1287.4" font-size="13" fill="#333" text-anchor="end" textLength="27" lengthAdjust="spacingAndGlyphs">0.75</text>
<line x1="478.3" x2="482.3" y1="1249.20" y2="1249.20" stroke="#555" stroke-width="1"/>
<text x="473.1" y="1253.9" font-size="13" fill="#333" text-anchor="end" textLength="27" lengthAdjust="spacingAndGlyphs">1.00</text>
<line x1="496.30" x2="496.30" y1="1390.2" y2="1393.7" stroke="#555" stroke-width="1"/>
<text x="496.3" y="1409.9" font-size="13" fill="#333" text-anchor="middle" textLength="8.6" lengthAdjust="spacingAndGlyphs">0</text>
<line x1="567.73" x2="567.73" y1="1390.2" y2="1393.7" stroke="#555" stroke-width="1"/>
<text x="567.73" y="1409.9" font-size="13" fill="#333" text-anchor="middle" textLength="15.4" lengthAdjust="spacingAndGlyphs">30</text>
<line x1="639.16" x2="639.16" y1="1390.2" y2="1393.7" stroke="#555" stroke-width="1"/>
<text x="639.16" y="1409.9" font-size="13" fill="#333" text-anchor="middle" textLength="15.4" lengthAdjust="spacingAndGlyphs">60</text>
<line x1="710.59" x2="710.59" y1="1390.2" y2="1393.7" stroke="#555" stroke-width="1"/>
<text x="710.59" y="1409.9" font-size="13" fill="#333" text-anchor="middle" textLength="15.4" lengthAdjust="spacingAndGlyphs">90</text>
<line x1="782.02" x2="782.02" y1="1390.2" y2="1393.7" stroke="#555" stroke-width="1"/>
<text x="782.02" y="1409.9" font-size="13" fill="#333" text-anchor="middle" textLength="22" lengthAdjust="spacingAndGlyphs">120</text>
<text x="639.66" y="1433.8" font-size="15.2" fill="#222" text-anchor="middle" textLength="103" lengthAdjust="spacingAndGlyphs">Time in weeks</text>
<text x="428" y="1404" font-size="15.2" fill="#222" text-anchor="middle" textLength="147" lengthAdjust="spacingAndGlyphs" transform="rotate(-90 428 1404)">Probability with PFS</text>
<text x="483.3" y="1469.8" font-size="15.2" fill="#222" textLength="253" lengthAdjust="spacingAndGlyphs">Number at risk (number censored)</text>
<path d="M481.3,1476.7 V1524 H796.2" stroke="#555" stroke-width="1" fill="none"/>
<line x1="477.8" x2="481.3" y1="1500" y2="1500" stroke="#555" stroke-width="1"/>
<line x1="495.20" x2="495.20" y1="1524" y2="1527.5" stroke="#555" stroke-width="1"/>
<text x="495.2" y="1543.7" font-size="13" fill="#333" text-anchor="middle" textLength="8.6" lengthAdjust="spacingAndGlyphs">0</text>
<text x="498.3" y="1504.2" font-size="12.5" fill="#222" text-anchor="middle" textLength="35" lengthAdjust="spacingAndGlyphs">18 (0)</text>
<line x1="566.90" x2="566.90" y1="1524" y2="1527.5" stroke="#555" stroke-width="1"/>
<text x="566.9" y="1543.7" font-size="13" fill="#333" text-anchor="middle" textLength="15.4" lengthAdjust="spacingAndGlyphs">30</text>
<text x="567.73" y="1504.2" font-size="12.5" fill="#222" text-anchor="middle" textLength="32" lengthAdjust="spacingAndGlyphs">16 (1)</text>
<line x1="638.60" x2="638.60" y1="1524" y2="1527.5" stroke="#555" stroke-width="1"/>
<text x="638.6" y="1543.7" font-size="13" fill="#333" text-anchor="middle" textLength="15.4" lengthAdjust="spacingAndGlyphs">60</text>
<text x="639.16" y="1504.2" font-size="12.5" fill="#222" text-anchor="middle" textLength="35.5" lengthAdjust="spacingAndGlyphs">10 (4)</text>
<line x1="710.30" x2="710.30" y1="1524" y2="1527.5" stroke="#555" stroke-width="1"/>
<text x="710.3" y="1543.7" font-size="13" fill="#333" text-anchor="middle" textLength="15.4" lengthAdjust="spacingAndGlyphs">90</text>
<text x="710.59" y="1504.2" font-size="12.5" fill="#222" text-anchor="middle" textLength="34" lengthAdjust="spacingAndGlyphs">4 (10)</text>
<line x1="782.00" x2="782.00" y1="1524" y2="1527.5" stroke="#555" stroke-width="1"/>
<text x="782.0" y="1543.7" font-size="13" fill="#333" text-anchor="middle" textLength="22" lengthAdjust="spacingAndGlyphs">120</text>
<text x="782.02" y="1504.2" font-size="12.5" fill="#222" text-anchor="middle" textLength="35" lengthAdjust="spacingAndGlyphs">0 (14)</text>
<text x="638.16" y="1566" font-size="15.2" fill="#222" text-anchor="middle" textLength="103" lengthAdjust="spacingAndGlyphs">Time in weeks</text>
<path d="M931.20,1250.00 H1170.29 V1306.25 H1011.61 V1294.39 H985.28 V1283.06 H975.55 V1270.53 H931.20 V1250.00 Z" fill="#b3c7de"/>
<path d="M898.70,1250.00 H931.20 V1257.46 H975.55 V1265.20 H985.28 V1273.06 H1011.61 V1282.39 H1171.29" stroke="#1f5c99" stroke-width="1.5" fill="none"/>
<path d="M944.72,1255.26 v4.4 M988.12,1270.86 v4.4 M992.16,1270.86 v4.4 M1013.74,1280.19 v4.4 M1045.53,1280.19 v4.4 M1055.25,1280.19 v4.4 M1069.48,1280.19 v4.4 M1073.04,1280.19 v4.4 M1080.16,1280.19 v4.4 M1101.27,1280.19 v4.4 M1121.67,1280.19 v4.4 M1146.57,1280.19 v4.4 M1165.55,1280.19 v4.4 M1169.11,1280.19 v4.4 " stroke="#1f5c99" stroke-width="1" fill="none"/>
<path d="M884,1244.00 V1390.3 H1197.5" stroke="#555" stroke-width="1" fill="none"/>
<line x1="880" x2="884" y1="1383.30" y2="1383.30" stroke="#555" stroke-width="1"/>
<text x="874.8" y="1388.0" font-size="13" fill="#333" text-anchor="end" textLength="8" lengthAdjust="spacingAndGlyphs">0</text>
<line x1="880" x2="884" y1="1349.97" y2="1349.97" stroke="#555" stroke-width="1"/>
<text x="874.8" y="1354.67" font-size="13" fill="#333" text-anchor="end" textLength="27" lengthAdjust="spacingAndGlyphs">0.25</text>
<line x1="880" x2="884" y1="1316.65" y2="1316.65" stroke="#555" stroke-width="1"/>
<text x="874.8" y="1321.35" font-size="13" fill="#333" text-anchor="end" textLength="27" lengthAdjust="spacingAndGlyphs">0.50</text>
<line x1="880" x2="884" y1="1283.33" y2="1283.33" stroke="#555" stroke-width="1"/>
<text x="874.8" y="1288.03" font-size="13" fill="#333" text-anchor="end" textLength="27" lengthAdjust="spacingAndGlyphs">0.75</text>
<line x1="880" x2="884" y1="1250.00" y2="1250.00" stroke="#555" stroke-width="1"/>
<text x="874.8" y="1254.7" font-size="13" fill="#333" text-anchor="end" textLength="27" lengthAdjust="spacingAndGlyphs">1.00</text>
<line x1="898.70" x2="898.70" y1="1390.3" y2="1393.8" stroke="#555" stroke-width="1"/>
<text x="898.7" y="1410.0" font-size="13" fill="#333" text-anchor="middle" textLength="8.6" lengthAdjust="spacingAndGlyphs">0</text>
<line x1="969.86" x2="969.86" y1="1390.3" y2="1393.8" stroke="#555" stroke-width="1"/>
<text x="969.86" y="1410.0" font-size="13" fill="#333" text-anchor="middle" textLength="15.4" lengthAdjust="spacingAndGlyphs">30</text>
<line x1="1041.02" x2="1041.02" y1="1390.3" y2="1393.8" stroke="#555" stroke-width="1"/>
<text x="1041.02" y="1410.0" font-size="13" fill="#333" text-anchor="middle" textLength="15.4" lengthAdjust="spacingAndGlyphs">60</text>
<line x1="1112.18" x2="1112.18" y1="1390.3" y2="1393.8" stroke="#555" stroke-width="1"/>
<text x="1112.18" y="1410.0" font-size="13" fill="#333" text-anchor="middle" textLength="15.4" lengthAdjust="spacingAndGlyphs">90</text>
<line x1="1183.34" x2="1183.34" y1="1390.3" y2="1393.8" stroke="#555" stroke-width="1"/>
<text x="1183.34" y="1410.0" font-size="13" fill="#333" text-anchor="middle" textLength="22" lengthAdjust="spacingAndGlyphs">120</text>
<text x="1041.52" y="1433.9" font-size="15.2" fill="#222" text-anchor="middle" textLength="103" lengthAdjust="spacingAndGlyphs">Time in weeks</text>
<text x="831" y="1404.5" font-size="15.2" fill="#222" text-anchor="middle" textLength="186" lengthAdjust="spacingAndGlyphs" transform="rotate(-90 831 1404.5)">Probability with local PFS</text>
<text x="885" y="1469.8" font-size="15.2" fill="#222" textLength="253" lengthAdjust="spacingAndGlyphs">Number at risk (number censored)</text>
<path d="M883,1476.7 V1524 H1197.5" stroke="#555" stroke-width="1" fill="none"/>
<line x1="879.5" x2="883" y1="1500" y2="1500" stroke="#555" stroke-width="1"/>
<line x1="897.60" x2="897.60" y1="1524" y2="1527.5" stroke="#555" stroke-width="1"/>
<text x="897.6" y="1543.7" font-size="13" fill="#333" text-anchor="middle" textLength="8.6" lengthAdjust="spacingAndGlyphs">0</text>
<text x="900.7" y="1504.2" font-size="12.5" fill="#222" text-anchor="middle" textLength="35" lengthAdjust="spacingAndGlyphs">18 (0)</text>
<line x1="969.03" x2="969.03" y1="1524" y2="1527.5" stroke="#555" stroke-width="1"/>
<text x="969.03" y="1543.7" font-size="13" fill="#333" text-anchor="middle" textLength="15.4" lengthAdjust="spacingAndGlyphs">30</text>
<text x="969.86" y="1504.2" font-size="12.5" fill="#222" text-anchor="middle" textLength="32" lengthAdjust="spacingAndGlyphs">16 (1)</text>
<line x1="1040.46" x2="1040.46" y1="1524" y2="1527.5" stroke="#555" stroke-width="1"/>
<text x="1040.46" y="1543.7" font-size="13" fill="#333" text-anchor="middle" textLength="15.4" lengthAdjust="spacingAndGlyphs">60</text>
<text x="1041.02" y="1504.2" font-size="12.5" fill="#222" text-anchor="middle" textLength="35.5" lengthAdjust="spacingAndGlyphs">10 (4)</text>
<line x1="1111.89" x2="1111.89" y1="1524" y2="1527.5" stroke="#555" stroke-width="1"/>
<text x="1111.89" y="1543.7" font-size="13" fill="#333" text-anchor="middle" textLength="15.4" lengthAdjust="spacingAndGlyphs">90</text>
<text x="1112.18" y="1504.2" font-size="12.5" fill="#222" text-anchor="middle" textLength="34" lengthAdjust="spacingAndGlyphs">4 (10)</text>
<line x1="1183.32" x2="1183.32" y1="1524" y2="1527.5" stroke="#555" stroke-width="1"/>
<text x="1183.32" y="1543.7" font-size="13" fill="#333" text-anchor="middle" textLength="22" lengthAdjust="spacingAndGlyphs">120</text>
<text x="1183.34" y="1504.2" font-size="12.5" fill="#222" text-anchor="middle" textLength="35" lengthAdjust="spacingAndGlyphs">0 (14)</text>
<text x="1040.02" y="1566" font-size="15.2" fill="#222" text-anchor="middle" textLength="103" lengthAdjust="spacingAndGlyphs">Time in weeks</text>
</svg>
</body></html>
